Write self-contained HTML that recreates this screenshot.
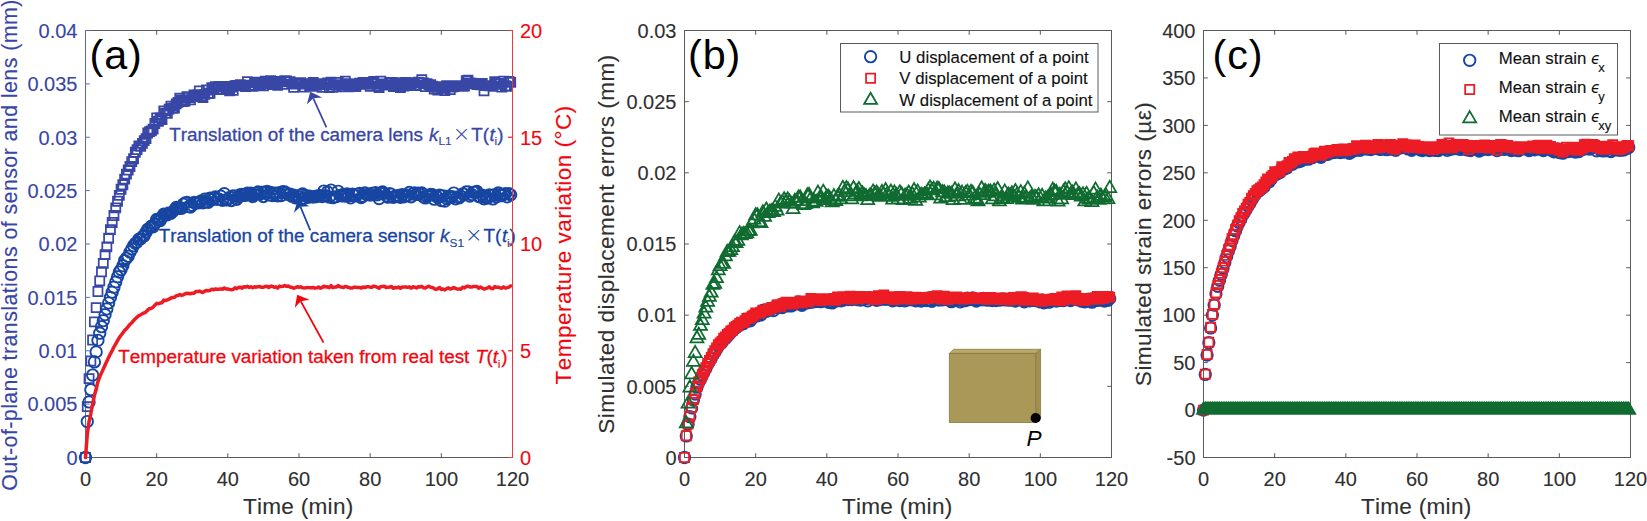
<!DOCTYPE html>
<html lang="en"><head><meta charset="utf-8"><title>Simulated thermal errors</title>
<style>html,body{margin:0;padding:0;background:#fff}svg{display:block}text{font-kerning:none;font-variant-ligatures:none}</style></head>
<body>
<svg width="1647" height="521" viewBox="0 0 1647 521" font-family='"Liberation Sans", sans-serif'>
<rect width="1647" height="521" fill="#fff"/>
<line x1="85.5" y1="457.5" x2="512.5" y2="457.5" stroke="#5a5a5a" stroke-width="1.0" />
<line x1="85.5" y1="30.5" x2="512.5" y2="30.5" stroke="#5a5a5a" stroke-width="1.0" />
<line x1="85.5" y1="457.5" x2="85.5" y2="453.2" stroke="#5a5a5a" stroke-width="1.0" />
<line x1="85.5" y1="30.5" x2="85.5" y2="34.8" stroke="#5a5a5a" stroke-width="1.0" />
<text x="85.5" y="485.6" font-size="20.0" fill="#303030" stroke="#303030" stroke-width="0.12" text-anchor="middle" >0</text>
<line x1="156.67" y1="457.5" x2="156.67" y2="453.2" stroke="#5a5a5a" stroke-width="1.0" />
<line x1="156.67" y1="30.5" x2="156.67" y2="34.8" stroke="#5a5a5a" stroke-width="1.0" />
<text x="156.67" y="485.6" font-size="20.0" fill="#303030" stroke="#303030" stroke-width="0.12" text-anchor="middle" >20</text>
<line x1="227.83" y1="457.5" x2="227.83" y2="453.2" stroke="#5a5a5a" stroke-width="1.0" />
<line x1="227.83" y1="30.5" x2="227.83" y2="34.8" stroke="#5a5a5a" stroke-width="1.0" />
<text x="227.83" y="485.6" font-size="20.0" fill="#303030" stroke="#303030" stroke-width="0.12" text-anchor="middle" >40</text>
<line x1="299" y1="457.5" x2="299" y2="453.2" stroke="#5a5a5a" stroke-width="1.0" />
<line x1="299" y1="30.5" x2="299" y2="34.8" stroke="#5a5a5a" stroke-width="1.0" />
<text x="299" y="485.6" font-size="20.0" fill="#303030" stroke="#303030" stroke-width="0.12" text-anchor="middle" >60</text>
<line x1="370.17" y1="457.5" x2="370.17" y2="453.2" stroke="#5a5a5a" stroke-width="1.0" />
<line x1="370.17" y1="30.5" x2="370.17" y2="34.8" stroke="#5a5a5a" stroke-width="1.0" />
<text x="370.17" y="485.6" font-size="20.0" fill="#303030" stroke="#303030" stroke-width="0.12" text-anchor="middle" >80</text>
<line x1="441.33" y1="457.5" x2="441.33" y2="453.2" stroke="#5a5a5a" stroke-width="1.0" />
<line x1="441.33" y1="30.5" x2="441.33" y2="34.8" stroke="#5a5a5a" stroke-width="1.0" />
<text x="441.33" y="485.6" font-size="20.0" fill="#303030" stroke="#303030" stroke-width="0.12" text-anchor="middle" >100</text>
<line x1="512.5" y1="457.5" x2="512.5" y2="453.2" stroke="#5a5a5a" stroke-width="1.0" />
<line x1="512.5" y1="30.5" x2="512.5" y2="34.8" stroke="#5a5a5a" stroke-width="1.0" />
<text x="512.5" y="485.6" font-size="20.0" fill="#303030" stroke="#303030" stroke-width="0.12" text-anchor="middle" >120</text>
<text x="298.2" y="514.2" font-size="22.6" fill="#303030" stroke="#303030" stroke-width="0.12" text-anchor="middle" letter-spacing=".27">Time (min)</text>
<line x1="85.5" y1="30" x2="85.5" y2="458" stroke="#5b68b8" stroke-width="1.0" />
<line x1="85.5" y1="457.5" x2="89.8" y2="457.5" stroke="#5b68b8" stroke-width="1.0" />
<text x="77.5" y="464.8" font-size="20.0" fill="#3846a6" stroke="#3846a6" stroke-width="0.12" text-anchor="end" >0</text>
<line x1="85.5" y1="404.12" x2="89.8" y2="404.12" stroke="#5b68b8" stroke-width="1.0" />
<text x="77.5" y="411.43" font-size="20.0" fill="#3846a6" stroke="#3846a6" stroke-width="0.12" text-anchor="end" >0.005</text>
<line x1="85.5" y1="350.75" x2="89.8" y2="350.75" stroke="#5b68b8" stroke-width="1.0" />
<text x="77.5" y="358.05" font-size="20.0" fill="#3846a6" stroke="#3846a6" stroke-width="0.12" text-anchor="end" >0.01</text>
<line x1="85.5" y1="297.38" x2="89.8" y2="297.38" stroke="#5b68b8" stroke-width="1.0" />
<text x="77.5" y="304.68" font-size="20.0" fill="#3846a6" stroke="#3846a6" stroke-width="0.12" text-anchor="end" >0.015</text>
<line x1="85.5" y1="244" x2="89.8" y2="244" stroke="#5b68b8" stroke-width="1.0" />
<text x="77.5" y="251.3" font-size="20.0" fill="#3846a6" stroke="#3846a6" stroke-width="0.12" text-anchor="end" >0.02</text>
<line x1="85.5" y1="190.62" x2="89.8" y2="190.62" stroke="#5b68b8" stroke-width="1.0" />
<text x="77.5" y="197.93" font-size="20.0" fill="#3846a6" stroke="#3846a6" stroke-width="0.12" text-anchor="end" >0.025</text>
<line x1="85.5" y1="137.25" x2="89.8" y2="137.25" stroke="#5b68b8" stroke-width="1.0" />
<text x="77.5" y="144.55" font-size="20.0" fill="#3846a6" stroke="#3846a6" stroke-width="0.12" text-anchor="end" >0.03</text>
<line x1="85.5" y1="83.88" x2="89.8" y2="83.88" stroke="#5b68b8" stroke-width="1.0" />
<text x="77.5" y="91.17" font-size="20.0" fill="#3846a6" stroke="#3846a6" stroke-width="0.12" text-anchor="end" >0.035</text>
<line x1="85.5" y1="30.5" x2="89.8" y2="30.5" stroke="#5b68b8" stroke-width="1.0" />
<text x="77.5" y="37.8" font-size="20.0" fill="#3846a6" stroke="#3846a6" stroke-width="0.12" text-anchor="end" >0.04</text>
<line x1="512.5" y1="30" x2="512.5" y2="458" stroke="#f2343c" stroke-width="1.0" />
<line x1="512.5" y1="457.5" x2="508.2" y2="457.5" stroke="#f2343c" stroke-width="1.0" />
<line x1="512.5" y1="350.75" x2="508.2" y2="350.75" stroke="#f2343c" stroke-width="1.0" />
<line x1="512.5" y1="244" x2="508.2" y2="244" stroke="#f2343c" stroke-width="1.0" />
<line x1="512.5" y1="137.25" x2="508.2" y2="137.25" stroke="#f2343c" stroke-width="1.0" />
<line x1="512.5" y1="30.5" x2="508.2" y2="30.5" stroke="#f2343c" stroke-width="1.0" />
<text x="520" y="464.8" font-size="20.0" fill="#f2060f" stroke="#f2060f" stroke-width="0.12" text-anchor="start" >0</text>
<text x="520" y="358.05" font-size="20.0" fill="#f2060f" stroke="#f2060f" stroke-width="0.12" text-anchor="start" >5</text>
<text x="520" y="251.3" font-size="20.0" fill="#f2060f" stroke="#f2060f" stroke-width="0.12" text-anchor="start" >10</text>
<text x="520" y="144.55" font-size="20.0" fill="#f2060f" stroke="#f2060f" stroke-width="0.12" text-anchor="start" >15</text>
<text x="520" y="37.8" font-size="20.0" fill="#f2060f" stroke="#f2060f" stroke-width="0.12" text-anchor="start" >20</text>
<text transform="translate(17.4 245) rotate(-90)" font-size="21.4" fill="#3846a6" stroke="#3846a6" stroke-width="0.12" letter-spacing="0.42" text-anchor="middle">Out-of-plane translations of sensor and lens (mm)</text>
<text transform="translate(571 244.9) rotate(-90)" font-size="22.6" fill="#f2060f" stroke="#f2060f" stroke-width="0.12" letter-spacing="0.45" text-anchor="middle">Temperature variation (°C)</text>
<path d="M80.95 452.95h9.1v9.1h-9.1zM82.73 402.09h9.1v9.1h-9.1zM84.51 374.06h9.1v9.1h-9.1zM86.29 356.41h9.1v9.1h-9.1zM88.07 335.43h9.1v9.1h-9.1zM89.85 317.28h9.1v9.1h-9.1zM91.62 303.08h9.1v9.1h-9.1zM93.4 286.92h9.1v9.1h-9.1zM95.18 276.33h9.1v9.1h-9.1zM96.96 267.23h9.1v9.1h-9.1zM98.74 258.8h9.1v9.1h-9.1zM100.52 250.13h9.1v9.1h-9.1zM102.3 242.38h9.1v9.1h-9.1zM104.08 233.66h9.1v9.1h-9.1zM105.86 225.01h9.1v9.1h-9.1zM107.64 217.96h9.1v9.1h-9.1zM109.42 210.96h9.1v9.1h-9.1zM111.2 203.27h9.1v9.1h-9.1zM112.98 196.71h9.1v9.1h-9.1zM114.75 190.84h9.1v9.1h-9.1zM116.53 184.69h9.1v9.1h-9.1zM118.31 180.18h9.1v9.1h-9.1zM120.09 174.51h9.1v9.1h-9.1zM121.87 169.6h9.1v9.1h-9.1zM123.65 165.47h9.1v9.1h-9.1zM125.43 161.97h9.1v9.1h-9.1zM127.21 157.05h9.1v9.1h-9.1zM128.99 154.22h9.1v9.1h-9.1zM130.77 147.65h9.1v9.1h-9.1zM132.55 145h9.1v9.1h-9.1zM134.32 141.34h9.1v9.1h-9.1zM136.1 141.7h9.1v9.1h-9.1zM137.88 138.84h9.1v9.1h-9.1zM139.66 136.01h9.1v9.1h-9.1zM141.44 134.1h9.1v9.1h-9.1zM143.22 128.44h9.1v9.1h-9.1zM145 127.09h9.1v9.1h-9.1zM146.78 126.39h9.1v9.1h-9.1zM148.56 124.59h9.1v9.1h-9.1zM150.34 118.97h9.1v9.1h-9.1zM152.12 113.38h9.1v9.1h-9.1zM153.9 116.66h9.1v9.1h-9.1zM155.67 113.16h9.1v9.1h-9.1zM157.45 114.92h9.1v9.1h-9.1zM159.23 106.29h9.1v9.1h-9.1zM161.01 108.68h9.1v9.1h-9.1zM162.79 108.81h9.1v9.1h-9.1zM164.57 104.59h9.1v9.1h-9.1zM166.35 101.63h9.1v9.1h-9.1zM168.13 103.83h9.1v9.1h-9.1zM169.91 103.58h9.1v9.1h-9.1zM171.69 99.36h9.1v9.1h-9.1zM173.47 97.77h9.1v9.1h-9.1zM175.25 93.68h9.1v9.1h-9.1zM177.02 95.73h9.1v9.1h-9.1zM178.8 97.09h9.1v9.1h-9.1zM180.58 96.45h9.1v9.1h-9.1zM182.36 92.16h9.1v9.1h-9.1zM184.14 92.94h9.1v9.1h-9.1zM185.92 95.23h9.1v9.1h-9.1zM187.7 92.09h9.1v9.1h-9.1zM189.48 90.32h9.1v9.1h-9.1zM191.26 90.85h9.1v9.1h-9.1zM193.04 90.14h9.1v9.1h-9.1zM194.82 86.35h9.1v9.1h-9.1zM196.6 91.66h9.1v9.1h-9.1zM198.38 93.06h9.1v9.1h-9.1zM200.15 89.83h9.1v9.1h-9.1zM201.93 85.42h9.1v9.1h-9.1zM203.71 89.06h9.1v9.1h-9.1zM205.49 88.68h9.1v9.1h-9.1zM207.27 83.23h9.1v9.1h-9.1zM209.05 83.88h9.1v9.1h-9.1zM210.83 82.06h9.1v9.1h-9.1zM212.61 84.34h9.1v9.1h-9.1zM214.39 81.8h9.1v9.1h-9.1zM216.17 84.97h9.1v9.1h-9.1zM217.95 84.4h9.1v9.1h-9.1zM219.72 81.85h9.1v9.1h-9.1zM221.5 83.45h9.1v9.1h-9.1zM223.28 85.05h9.1v9.1h-9.1zM225.06 86.18h9.1v9.1h-9.1zM226.84 82.46h9.1v9.1h-9.1zM228.62 85.74h9.1v9.1h-9.1zM230.4 81.07h9.1v9.1h-9.1zM232.18 80.75h9.1v9.1h-9.1zM233.96 81.05h9.1v9.1h-9.1zM235.74 80.19h9.1v9.1h-9.1zM237.52 81.23h9.1v9.1h-9.1zM239.3 80.77h9.1v9.1h-9.1zM241.07 81.9h9.1v9.1h-9.1zM242.85 77.1h9.1v9.1h-9.1zM244.63 80.73h9.1v9.1h-9.1zM246.41 80.87h9.1v9.1h-9.1zM248.19 81.82h9.1v9.1h-9.1zM249.97 77.68h9.1v9.1h-9.1zM251.75 78.18h9.1v9.1h-9.1zM253.53 78.36h9.1v9.1h-9.1zM255.31 79.55h9.1v9.1h-9.1zM257.09 77.96h9.1v9.1h-9.1zM258.87 81.22h9.1v9.1h-9.1zM260.65 76.5h9.1v9.1h-9.1zM262.43 79.29h9.1v9.1h-9.1zM264.2 78.01h9.1v9.1h-9.1zM265.98 76.06h9.1v9.1h-9.1zM267.76 77.53h9.1v9.1h-9.1zM269.54 80h9.1v9.1h-9.1zM271.32 78.41h9.1v9.1h-9.1zM273.1 80.75h9.1v9.1h-9.1zM274.88 76.91h9.1v9.1h-9.1zM276.66 77.27h9.1v9.1h-9.1zM278.44 79.68h9.1v9.1h-9.1zM280.22 76.22h9.1v9.1h-9.1zM282 76.46h9.1v9.1h-9.1zM283.77 77.22h9.1v9.1h-9.1zM285.55 77.07h9.1v9.1h-9.1zM287.33 79.64h9.1v9.1h-9.1zM289.11 82.78h9.1v9.1h-9.1zM290.89 78.59h9.1v9.1h-9.1zM292.67 79.08h9.1v9.1h-9.1zM294.45 79.51h9.1v9.1h-9.1zM296.23 78.1h9.1v9.1h-9.1zM298.01 79.15h9.1v9.1h-9.1zM299.79 82.57h9.1v9.1h-9.1zM301.57 79.07h9.1v9.1h-9.1zM303.35 79.62h9.1v9.1h-9.1zM305.12 81.37h9.1v9.1h-9.1zM306.9 81.78h9.1v9.1h-9.1zM308.68 77.82h9.1v9.1h-9.1zM310.46 79.31h9.1v9.1h-9.1zM312.24 80.81h9.1v9.1h-9.1zM314.02 80.04h9.1v9.1h-9.1zM315.8 79.23h9.1v9.1h-9.1zM317.58 82.69h9.1v9.1h-9.1zM319.36 79.8h9.1v9.1h-9.1zM321.14 79.11h9.1v9.1h-9.1zM322.92 78.38h9.1v9.1h-9.1zM324.7 83.07h9.1v9.1h-9.1zM326.47 77.62h9.1v9.1h-9.1zM328.25 82.77h9.1v9.1h-9.1zM330.03 80.59h9.1v9.1h-9.1zM331.81 80.83h9.1v9.1h-9.1zM333.59 77.91h9.1v9.1h-9.1zM335.37 80.38h9.1v9.1h-9.1zM337.15 80.02h9.1v9.1h-9.1zM338.93 82.21h9.1v9.1h-9.1zM340.71 76.54h9.1v9.1h-9.1zM342.49 79.16h9.1v9.1h-9.1zM344.27 82.2h9.1v9.1h-9.1zM346.05 80.82h9.1v9.1h-9.1zM347.82 79.88h9.1v9.1h-9.1zM349.6 80.31h9.1v9.1h-9.1zM351.38 82.07h9.1v9.1h-9.1zM353.16 79.26h9.1v9.1h-9.1zM354.94 78.71h9.1v9.1h-9.1zM356.72 79.6h9.1v9.1h-9.1zM358.5 77.93h9.1v9.1h-9.1zM360.28 79.71h9.1v9.1h-9.1zM362.06 79.61h9.1v9.1h-9.1zM363.84 79.72h9.1v9.1h-9.1zM365.62 81.74h9.1v9.1h-9.1zM367.4 78.04h9.1v9.1h-9.1zM369.18 76.9h9.1v9.1h-9.1zM370.95 79.49h9.1v9.1h-9.1zM372.73 81.59h9.1v9.1h-9.1zM374.51 83.09h9.1v9.1h-9.1zM376.29 76.73h9.1v9.1h-9.1zM378.07 79.49h9.1v9.1h-9.1zM379.85 80.03h9.1v9.1h-9.1zM381.63 80.58h9.1v9.1h-9.1zM383.41 80.52h9.1v9.1h-9.1zM385.19 78.15h9.1v9.1h-9.1zM386.97 77.86h9.1v9.1h-9.1zM388.75 82.02h9.1v9.1h-9.1zM390.52 78.01h9.1v9.1h-9.1zM392.3 79.21h9.1v9.1h-9.1zM394.08 81.14h9.1v9.1h-9.1zM395.86 83.03h9.1v9.1h-9.1zM397.64 79.5h9.1v9.1h-9.1zM399.42 81.58h9.1v9.1h-9.1zM401.2 77.98h9.1v9.1h-9.1zM402.98 78.34h9.1v9.1h-9.1zM404.76 79.86h9.1v9.1h-9.1zM406.54 79.76h9.1v9.1h-9.1zM408.32 78.2h9.1v9.1h-9.1zM410.1 80.99h9.1v9.1h-9.1zM411.88 80.56h9.1v9.1h-9.1zM413.65 77.73h9.1v9.1h-9.1zM415.43 78.15h9.1v9.1h-9.1zM417.21 75.1h9.1v9.1h-9.1zM418.99 78.47h9.1v9.1h-9.1zM420.77 81.92h9.1v9.1h-9.1zM422.55 79.12h9.1v9.1h-9.1zM424.33 80.02h9.1v9.1h-9.1zM426.11 80.2h9.1v9.1h-9.1zM427.89 81.73h9.1v9.1h-9.1zM429.67 84.53h9.1v9.1h-9.1zM431.45 82.59h9.1v9.1h-9.1zM433.22 85.5h9.1v9.1h-9.1zM435 82.19h9.1v9.1h-9.1zM436.78 83.87h9.1v9.1h-9.1zM438.56 83.26h9.1v9.1h-9.1zM440.34 85.98h9.1v9.1h-9.1zM442.12 81.16h9.1v9.1h-9.1zM443.9 82.39h9.1v9.1h-9.1zM445.68 85.06h9.1v9.1h-9.1zM447.46 82.5h9.1v9.1h-9.1zM449.24 82.13h9.1v9.1h-9.1zM451.02 81.2h9.1v9.1h-9.1zM452.8 81.58h9.1v9.1h-9.1zM454.57 81.89h9.1v9.1h-9.1zM456.35 81.87h9.1v9.1h-9.1zM458.13 81.76h9.1v9.1h-9.1zM459.91 81.42h9.1v9.1h-9.1zM461.69 76h9.1v9.1h-9.1zM463.47 75.58h9.1v9.1h-9.1zM465.25 78.42h9.1v9.1h-9.1zM467.03 78.58h9.1v9.1h-9.1zM468.81 79.1h9.1v9.1h-9.1zM470.59 79.22h9.1v9.1h-9.1zM472.37 80.05h9.1v9.1h-9.1zM474.15 79.52h9.1v9.1h-9.1zM475.93 80.36h9.1v9.1h-9.1zM477.7 78.94h9.1v9.1h-9.1zM479.48 86.16h9.1v9.1h-9.1zM481.26 81h9.1v9.1h-9.1zM483.04 81.04h9.1v9.1h-9.1zM484.82 81.19h9.1v9.1h-9.1zM486.6 81.13h9.1v9.1h-9.1zM488.38 81.81h9.1v9.1h-9.1zM490.16 77.16h9.1v9.1h-9.1zM491.94 78.94h9.1v9.1h-9.1zM493.72 78.79h9.1v9.1h-9.1zM495.5 79.74h9.1v9.1h-9.1zM497.27 82.41h9.1v9.1h-9.1zM499.05 76.56h9.1v9.1h-9.1zM500.83 81.23h9.1v9.1h-9.1zM502.61 81.87h9.1v9.1h-9.1zM504.39 76.89h9.1v9.1h-9.1zM506.17 77.87h9.1v9.1h-9.1z" fill="none" stroke="#3846a6" stroke-width="1.75" stroke-linejoin="miter"/>
<path d="M85.5 457.5m-5.7 0a5.7 5.7 0 1 0 11.4 0a5.7 5.7 0 1 0 -11.4 0M87.28 421.56m-5.7 0a5.7 5.7 0 1 0 11.4 0a5.7 5.7 0 1 0 -11.4 0M89.06 401.97m-5.7 0a5.7 5.7 0 1 0 11.4 0a5.7 5.7 0 1 0 -11.4 0M90.84 389.76m-5.7 0a5.7 5.7 0 1 0 11.4 0a5.7 5.7 0 1 0 -11.4 0M92.62 375.07m-5.7 0a5.7 5.7 0 1 0 11.4 0a5.7 5.7 0 1 0 -11.4 0M94.4 361.93m-5.7 0a5.7 5.7 0 1 0 11.4 0a5.7 5.7 0 1 0 -11.4 0M96.17 351.91m-5.7 0a5.7 5.7 0 1 0 11.4 0a5.7 5.7 0 1 0 -11.4 0M97.95 340.35m-5.7 0a5.7 5.7 0 1 0 11.4 0a5.7 5.7 0 1 0 -11.4 0M99.73 333.18m-5.7 0a5.7 5.7 0 1 0 11.4 0a5.7 5.7 0 1 0 -11.4 0M101.51 326.72m-5.7 0a5.7 5.7 0 1 0 11.4 0a5.7 5.7 0 1 0 -11.4 0M103.29 320.66m-5.7 0a5.7 5.7 0 1 0 11.4 0a5.7 5.7 0 1 0 -11.4 0M105.07 314.64m-5.7 0a5.7 5.7 0 1 0 11.4 0a5.7 5.7 0 1 0 -11.4 0M106.85 308.92m-5.7 0a5.7 5.7 0 1 0 11.4 0a5.7 5.7 0 1 0 -11.4 0M108.63 302.9m-5.7 0a5.7 5.7 0 1 0 11.4 0a5.7 5.7 0 1 0 -11.4 0M110.41 297.42m-5.7 0a5.7 5.7 0 1 0 11.4 0a5.7 5.7 0 1 0 -11.4 0M112.19 292.19m-5.7 0a5.7 5.7 0 1 0 11.4 0a5.7 5.7 0 1 0 -11.4 0M113.97 287.23m-5.7 0a5.7 5.7 0 1 0 11.4 0a5.7 5.7 0 1 0 -11.4 0M115.75 281.9m-5.7 0a5.7 5.7 0 1 0 11.4 0a5.7 5.7 0 1 0 -11.4 0M117.53 276.83m-5.7 0a5.7 5.7 0 1 0 11.4 0a5.7 5.7 0 1 0 -11.4 0M119.3 272.04m-5.7 0a5.7 5.7 0 1 0 11.4 0a5.7 5.7 0 1 0 -11.4 0M121.08 269.57m-5.7 0a5.7 5.7 0 1 0 11.4 0a5.7 5.7 0 1 0 -11.4 0M122.86 265.64m-5.7 0a5.7 5.7 0 1 0 11.4 0a5.7 5.7 0 1 0 -11.4 0M124.64 260.56m-5.7 0a5.7 5.7 0 1 0 11.4 0a5.7 5.7 0 1 0 -11.4 0M126.42 258.29m-5.7 0a5.7 5.7 0 1 0 11.4 0a5.7 5.7 0 1 0 -11.4 0M128.2 256.35m-5.7 0a5.7 5.7 0 1 0 11.4 0a5.7 5.7 0 1 0 -11.4 0M129.98 252.11m-5.7 0a5.7 5.7 0 1 0 11.4 0a5.7 5.7 0 1 0 -11.4 0M131.76 248.92m-5.7 0a5.7 5.7 0 1 0 11.4 0a5.7 5.7 0 1 0 -11.4 0M133.54 245.63m-5.7 0a5.7 5.7 0 1 0 11.4 0a5.7 5.7 0 1 0 -11.4 0M135.32 243.36m-5.7 0a5.7 5.7 0 1 0 11.4 0a5.7 5.7 0 1 0 -11.4 0M137.1 242.04m-5.7 0a5.7 5.7 0 1 0 11.4 0a5.7 5.7 0 1 0 -11.4 0M138.88 239.26m-5.7 0a5.7 5.7 0 1 0 11.4 0a5.7 5.7 0 1 0 -11.4 0M140.65 238.85m-5.7 0a5.7 5.7 0 1 0 11.4 0a5.7 5.7 0 1 0 -11.4 0M142.43 236.59m-5.7 0a5.7 5.7 0 1 0 11.4 0a5.7 5.7 0 1 0 -11.4 0M144.21 235.85m-5.7 0a5.7 5.7 0 1 0 11.4 0a5.7 5.7 0 1 0 -11.4 0M145.99 232.32m-5.7 0a5.7 5.7 0 1 0 11.4 0a5.7 5.7 0 1 0 -11.4 0M147.77 229.3m-5.7 0a5.7 5.7 0 1 0 11.4 0a5.7 5.7 0 1 0 -11.4 0M149.55 227.92m-5.7 0a5.7 5.7 0 1 0 11.4 0a5.7 5.7 0 1 0 -11.4 0M151.33 226.28m-5.7 0a5.7 5.7 0 1 0 11.4 0a5.7 5.7 0 1 0 -11.4 0M153.11 226.74m-5.7 0a5.7 5.7 0 1 0 11.4 0a5.7 5.7 0 1 0 -11.4 0M154.89 223.59m-5.7 0a5.7 5.7 0 1 0 11.4 0a5.7 5.7 0 1 0 -11.4 0M156.67 219.38m-5.7 0a5.7 5.7 0 1 0 11.4 0a5.7 5.7 0 1 0 -11.4 0M158.45 220.19m-5.7 0a5.7 5.7 0 1 0 11.4 0a5.7 5.7 0 1 0 -11.4 0M160.22 220.62m-5.7 0a5.7 5.7 0 1 0 11.4 0a5.7 5.7 0 1 0 -11.4 0M162 217.22m-5.7 0a5.7 5.7 0 1 0 11.4 0a5.7 5.7 0 1 0 -11.4 0M163.78 214.24m-5.7 0a5.7 5.7 0 1 0 11.4 0a5.7 5.7 0 1 0 -11.4 0M165.56 214.91m-5.7 0a5.7 5.7 0 1 0 11.4 0a5.7 5.7 0 1 0 -11.4 0M167.34 214.79m-5.7 0a5.7 5.7 0 1 0 11.4 0a5.7 5.7 0 1 0 -11.4 0M169.12 212.84m-5.7 0a5.7 5.7 0 1 0 11.4 0a5.7 5.7 0 1 0 -11.4 0M170.9 213.33m-5.7 0a5.7 5.7 0 1 0 11.4 0a5.7 5.7 0 1 0 -11.4 0M172.68 211.62m-5.7 0a5.7 5.7 0 1 0 11.4 0a5.7 5.7 0 1 0 -11.4 0M174.46 209.89m-5.7 0a5.7 5.7 0 1 0 11.4 0a5.7 5.7 0 1 0 -11.4 0M176.24 207.48m-5.7 0a5.7 5.7 0 1 0 11.4 0a5.7 5.7 0 1 0 -11.4 0M178.02 207.55m-5.7 0a5.7 5.7 0 1 0 11.4 0a5.7 5.7 0 1 0 -11.4 0M179.8 208.36m-5.7 0a5.7 5.7 0 1 0 11.4 0a5.7 5.7 0 1 0 -11.4 0M181.57 208.28m-5.7 0a5.7 5.7 0 1 0 11.4 0a5.7 5.7 0 1 0 -11.4 0M183.35 204.18m-5.7 0a5.7 5.7 0 1 0 11.4 0a5.7 5.7 0 1 0 -11.4 0M185.13 202.84m-5.7 0a5.7 5.7 0 1 0 11.4 0a5.7 5.7 0 1 0 -11.4 0M186.91 202.45m-5.7 0a5.7 5.7 0 1 0 11.4 0a5.7 5.7 0 1 0 -11.4 0M188.69 206.63m-5.7 0a5.7 5.7 0 1 0 11.4 0a5.7 5.7 0 1 0 -11.4 0M190.47 206.99m-5.7 0a5.7 5.7 0 1 0 11.4 0a5.7 5.7 0 1 0 -11.4 0M192.25 205.41m-5.7 0a5.7 5.7 0 1 0 11.4 0a5.7 5.7 0 1 0 -11.4 0M194.03 202.5m-5.7 0a5.7 5.7 0 1 0 11.4 0a5.7 5.7 0 1 0 -11.4 0M195.81 202.92m-5.7 0a5.7 5.7 0 1 0 11.4 0a5.7 5.7 0 1 0 -11.4 0M197.59 202.93m-5.7 0a5.7 5.7 0 1 0 11.4 0a5.7 5.7 0 1 0 -11.4 0M199.37 202.01m-5.7 0a5.7 5.7 0 1 0 11.4 0a5.7 5.7 0 1 0 -11.4 0M201.15 200.94m-5.7 0a5.7 5.7 0 1 0 11.4 0a5.7 5.7 0 1 0 -11.4 0M202.93 202.83m-5.7 0a5.7 5.7 0 1 0 11.4 0a5.7 5.7 0 1 0 -11.4 0M204.7 199.08m-5.7 0a5.7 5.7 0 1 0 11.4 0a5.7 5.7 0 1 0 -11.4 0M206.48 201.98m-5.7 0a5.7 5.7 0 1 0 11.4 0a5.7 5.7 0 1 0 -11.4 0M208.26 202.35m-5.7 0a5.7 5.7 0 1 0 11.4 0a5.7 5.7 0 1 0 -11.4 0M210.04 198.05m-5.7 0a5.7 5.7 0 1 0 11.4 0a5.7 5.7 0 1 0 -11.4 0M211.82 199.77m-5.7 0a5.7 5.7 0 1 0 11.4 0a5.7 5.7 0 1 0 -11.4 0M213.6 197.75m-5.7 0a5.7 5.7 0 1 0 11.4 0a5.7 5.7 0 1 0 -11.4 0M215.38 196.98m-5.7 0a5.7 5.7 0 1 0 11.4 0a5.7 5.7 0 1 0 -11.4 0M217.16 199.36m-5.7 0a5.7 5.7 0 1 0 11.4 0a5.7 5.7 0 1 0 -11.4 0M218.94 199.06m-5.7 0a5.7 5.7 0 1 0 11.4 0a5.7 5.7 0 1 0 -11.4 0M220.72 196.18m-5.7 0a5.7 5.7 0 1 0 11.4 0a5.7 5.7 0 1 0 -11.4 0M222.5 200.35m-5.7 0a5.7 5.7 0 1 0 11.4 0a5.7 5.7 0 1 0 -11.4 0M224.28 193.71m-5.7 0a5.7 5.7 0 1 0 11.4 0a5.7 5.7 0 1 0 -11.4 0M226.05 199.95m-5.7 0a5.7 5.7 0 1 0 11.4 0a5.7 5.7 0 1 0 -11.4 0M227.83 199.22m-5.7 0a5.7 5.7 0 1 0 11.4 0a5.7 5.7 0 1 0 -11.4 0M229.61 197.51m-5.7 0a5.7 5.7 0 1 0 11.4 0a5.7 5.7 0 1 0 -11.4 0M231.39 200.48m-5.7 0a5.7 5.7 0 1 0 11.4 0a5.7 5.7 0 1 0 -11.4 0M233.17 196m-5.7 0a5.7 5.7 0 1 0 11.4 0a5.7 5.7 0 1 0 -11.4 0M234.95 196.2m-5.7 0a5.7 5.7 0 1 0 11.4 0a5.7 5.7 0 1 0 -11.4 0M236.73 199.26m-5.7 0a5.7 5.7 0 1 0 11.4 0a5.7 5.7 0 1 0 -11.4 0M238.51 196.79m-5.7 0a5.7 5.7 0 1 0 11.4 0a5.7 5.7 0 1 0 -11.4 0M240.29 194.56m-5.7 0a5.7 5.7 0 1 0 11.4 0a5.7 5.7 0 1 0 -11.4 0M242.07 194.39m-5.7 0a5.7 5.7 0 1 0 11.4 0a5.7 5.7 0 1 0 -11.4 0M243.85 195.3m-5.7 0a5.7 5.7 0 1 0 11.4 0a5.7 5.7 0 1 0 -11.4 0M245.62 195.23m-5.7 0a5.7 5.7 0 1 0 11.4 0a5.7 5.7 0 1 0 -11.4 0M247.4 193.22m-5.7 0a5.7 5.7 0 1 0 11.4 0a5.7 5.7 0 1 0 -11.4 0M249.18 194.43m-5.7 0a5.7 5.7 0 1 0 11.4 0a5.7 5.7 0 1 0 -11.4 0M250.96 193.11m-5.7 0a5.7 5.7 0 1 0 11.4 0a5.7 5.7 0 1 0 -11.4 0M252.74 196.49m-5.7 0a5.7 5.7 0 1 0 11.4 0a5.7 5.7 0 1 0 -11.4 0M254.52 194.82m-5.7 0a5.7 5.7 0 1 0 11.4 0a5.7 5.7 0 1 0 -11.4 0M256.3 192.94m-5.7 0a5.7 5.7 0 1 0 11.4 0a5.7 5.7 0 1 0 -11.4 0M258.08 191.99m-5.7 0a5.7 5.7 0 1 0 11.4 0a5.7 5.7 0 1 0 -11.4 0M259.86 194.2m-5.7 0a5.7 5.7 0 1 0 11.4 0a5.7 5.7 0 1 0 -11.4 0M261.64 192.46m-5.7 0a5.7 5.7 0 1 0 11.4 0a5.7 5.7 0 1 0 -11.4 0M263.42 196.51m-5.7 0a5.7 5.7 0 1 0 11.4 0a5.7 5.7 0 1 0 -11.4 0M265.2 191.99m-5.7 0a5.7 5.7 0 1 0 11.4 0a5.7 5.7 0 1 0 -11.4 0M266.98 191.36m-5.7 0a5.7 5.7 0 1 0 11.4 0a5.7 5.7 0 1 0 -11.4 0M268.75 194.96m-5.7 0a5.7 5.7 0 1 0 11.4 0a5.7 5.7 0 1 0 -11.4 0M270.53 192.39m-5.7 0a5.7 5.7 0 1 0 11.4 0a5.7 5.7 0 1 0 -11.4 0M272.31 195.54m-5.7 0a5.7 5.7 0 1 0 11.4 0a5.7 5.7 0 1 0 -11.4 0M274.09 193.2m-5.7 0a5.7 5.7 0 1 0 11.4 0a5.7 5.7 0 1 0 -11.4 0M275.87 193.36m-5.7 0a5.7 5.7 0 1 0 11.4 0a5.7 5.7 0 1 0 -11.4 0M277.65 195.84m-5.7 0a5.7 5.7 0 1 0 11.4 0a5.7 5.7 0 1 0 -11.4 0M279.43 192.75m-5.7 0a5.7 5.7 0 1 0 11.4 0a5.7 5.7 0 1 0 -11.4 0M281.21 195.57m-5.7 0a5.7 5.7 0 1 0 11.4 0a5.7 5.7 0 1 0 -11.4 0M282.99 191.7m-5.7 0a5.7 5.7 0 1 0 11.4 0a5.7 5.7 0 1 0 -11.4 0M284.77 192.02m-5.7 0a5.7 5.7 0 1 0 11.4 0a5.7 5.7 0 1 0 -11.4 0M286.55 193.01m-5.7 0a5.7 5.7 0 1 0 11.4 0a5.7 5.7 0 1 0 -11.4 0M288.32 194.56m-5.7 0a5.7 5.7 0 1 0 11.4 0a5.7 5.7 0 1 0 -11.4 0M290.1 194.12m-5.7 0a5.7 5.7 0 1 0 11.4 0a5.7 5.7 0 1 0 -11.4 0M291.88 196.27m-5.7 0a5.7 5.7 0 1 0 11.4 0a5.7 5.7 0 1 0 -11.4 0M293.66 195.1m-5.7 0a5.7 5.7 0 1 0 11.4 0a5.7 5.7 0 1 0 -11.4 0M295.44 197.86m-5.7 0a5.7 5.7 0 1 0 11.4 0a5.7 5.7 0 1 0 -11.4 0M297.22 196.04m-5.7 0a5.7 5.7 0 1 0 11.4 0a5.7 5.7 0 1 0 -11.4 0M299 196.36m-5.7 0a5.7 5.7 0 1 0 11.4 0a5.7 5.7 0 1 0 -11.4 0M300.78 194.78m-5.7 0a5.7 5.7 0 1 0 11.4 0a5.7 5.7 0 1 0 -11.4 0M302.56 193.98m-5.7 0a5.7 5.7 0 1 0 11.4 0a5.7 5.7 0 1 0 -11.4 0M304.34 198.3m-5.7 0a5.7 5.7 0 1 0 11.4 0a5.7 5.7 0 1 0 -11.4 0M306.12 195.53m-5.7 0a5.7 5.7 0 1 0 11.4 0a5.7 5.7 0 1 0 -11.4 0M307.9 197.39m-5.7 0a5.7 5.7 0 1 0 11.4 0a5.7 5.7 0 1 0 -11.4 0M309.68 196.19m-5.7 0a5.7 5.7 0 1 0 11.4 0a5.7 5.7 0 1 0 -11.4 0M311.45 196.77m-5.7 0a5.7 5.7 0 1 0 11.4 0a5.7 5.7 0 1 0 -11.4 0M313.23 196.97m-5.7 0a5.7 5.7 0 1 0 11.4 0a5.7 5.7 0 1 0 -11.4 0M315.01 196.35m-5.7 0a5.7 5.7 0 1 0 11.4 0a5.7 5.7 0 1 0 -11.4 0M316.79 196.63m-5.7 0a5.7 5.7 0 1 0 11.4 0a5.7 5.7 0 1 0 -11.4 0M318.57 195.76m-5.7 0a5.7 5.7 0 1 0 11.4 0a5.7 5.7 0 1 0 -11.4 0M320.35 195.74m-5.7 0a5.7 5.7 0 1 0 11.4 0a5.7 5.7 0 1 0 -11.4 0M322.13 196.52m-5.7 0a5.7 5.7 0 1 0 11.4 0a5.7 5.7 0 1 0 -11.4 0M323.91 191.03m-5.7 0a5.7 5.7 0 1 0 11.4 0a5.7 5.7 0 1 0 -11.4 0M325.69 195.67m-5.7 0a5.7 5.7 0 1 0 11.4 0a5.7 5.7 0 1 0 -11.4 0M327.47 191.89m-5.7 0a5.7 5.7 0 1 0 11.4 0a5.7 5.7 0 1 0 -11.4 0M329.25 197.16m-5.7 0a5.7 5.7 0 1 0 11.4 0a5.7 5.7 0 1 0 -11.4 0M331.02 190.1m-5.7 0a5.7 5.7 0 1 0 11.4 0a5.7 5.7 0 1 0 -11.4 0M332.8 197.72m-5.7 0a5.7 5.7 0 1 0 11.4 0a5.7 5.7 0 1 0 -11.4 0M334.58 197.05m-5.7 0a5.7 5.7 0 1 0 11.4 0a5.7 5.7 0 1 0 -11.4 0M336.36 196.54m-5.7 0a5.7 5.7 0 1 0 11.4 0a5.7 5.7 0 1 0 -11.4 0M338.14 191.28m-5.7 0a5.7 5.7 0 1 0 11.4 0a5.7 5.7 0 1 0 -11.4 0M339.92 195.36m-5.7 0a5.7 5.7 0 1 0 11.4 0a5.7 5.7 0 1 0 -11.4 0M341.7 195.77m-5.7 0a5.7 5.7 0 1 0 11.4 0a5.7 5.7 0 1 0 -11.4 0M343.48 194.48m-5.7 0a5.7 5.7 0 1 0 11.4 0a5.7 5.7 0 1 0 -11.4 0M345.26 195.98m-5.7 0a5.7 5.7 0 1 0 11.4 0a5.7 5.7 0 1 0 -11.4 0M347.04 193.98m-5.7 0a5.7 5.7 0 1 0 11.4 0a5.7 5.7 0 1 0 -11.4 0M348.82 195.77m-5.7 0a5.7 5.7 0 1 0 11.4 0a5.7 5.7 0 1 0 -11.4 0M350.6 197.9m-5.7 0a5.7 5.7 0 1 0 11.4 0a5.7 5.7 0 1 0 -11.4 0M352.38 194.05m-5.7 0a5.7 5.7 0 1 0 11.4 0a5.7 5.7 0 1 0 -11.4 0M354.15 195.51m-5.7 0a5.7 5.7 0 1 0 11.4 0a5.7 5.7 0 1 0 -11.4 0M355.93 195.81m-5.7 0a5.7 5.7 0 1 0 11.4 0a5.7 5.7 0 1 0 -11.4 0M357.71 194.19m-5.7 0a5.7 5.7 0 1 0 11.4 0a5.7 5.7 0 1 0 -11.4 0M359.49 193.38m-5.7 0a5.7 5.7 0 1 0 11.4 0a5.7 5.7 0 1 0 -11.4 0M361.27 197.58m-5.7 0a5.7 5.7 0 1 0 11.4 0a5.7 5.7 0 1 0 -11.4 0M363.05 196.26m-5.7 0a5.7 5.7 0 1 0 11.4 0a5.7 5.7 0 1 0 -11.4 0M364.83 193.01m-5.7 0a5.7 5.7 0 1 0 11.4 0a5.7 5.7 0 1 0 -11.4 0M366.61 194.63m-5.7 0a5.7 5.7 0 1 0 11.4 0a5.7 5.7 0 1 0 -11.4 0M368.39 193.82m-5.7 0a5.7 5.7 0 1 0 11.4 0a5.7 5.7 0 1 0 -11.4 0M370.17 194.98m-5.7 0a5.7 5.7 0 1 0 11.4 0a5.7 5.7 0 1 0 -11.4 0M371.95 193.28m-5.7 0a5.7 5.7 0 1 0 11.4 0a5.7 5.7 0 1 0 -11.4 0M373.73 193.5m-5.7 0a5.7 5.7 0 1 0 11.4 0a5.7 5.7 0 1 0 -11.4 0M375.5 192.73m-5.7 0a5.7 5.7 0 1 0 11.4 0a5.7 5.7 0 1 0 -11.4 0M377.28 194.77m-5.7 0a5.7 5.7 0 1 0 11.4 0a5.7 5.7 0 1 0 -11.4 0M379.06 198.59m-5.7 0a5.7 5.7 0 1 0 11.4 0a5.7 5.7 0 1 0 -11.4 0M380.84 193.7m-5.7 0a5.7 5.7 0 1 0 11.4 0a5.7 5.7 0 1 0 -11.4 0M382.62 191.99m-5.7 0a5.7 5.7 0 1 0 11.4 0a5.7 5.7 0 1 0 -11.4 0M384.4 193.37m-5.7 0a5.7 5.7 0 1 0 11.4 0a5.7 5.7 0 1 0 -11.4 0M386.18 195.62m-5.7 0a5.7 5.7 0 1 0 11.4 0a5.7 5.7 0 1 0 -11.4 0M387.96 197.22m-5.7 0a5.7 5.7 0 1 0 11.4 0a5.7 5.7 0 1 0 -11.4 0M389.74 193.54m-5.7 0a5.7 5.7 0 1 0 11.4 0a5.7 5.7 0 1 0 -11.4 0M391.52 194.34m-5.7 0a5.7 5.7 0 1 0 11.4 0a5.7 5.7 0 1 0 -11.4 0M393.3 197.31m-5.7 0a5.7 5.7 0 1 0 11.4 0a5.7 5.7 0 1 0 -11.4 0M395.07 196.07m-5.7 0a5.7 5.7 0 1 0 11.4 0a5.7 5.7 0 1 0 -11.4 0M396.85 196.21m-5.7 0a5.7 5.7 0 1 0 11.4 0a5.7 5.7 0 1 0 -11.4 0M398.63 195.38m-5.7 0a5.7 5.7 0 1 0 11.4 0a5.7 5.7 0 1 0 -11.4 0M400.41 197.36m-5.7 0a5.7 5.7 0 1 0 11.4 0a5.7 5.7 0 1 0 -11.4 0M402.19 194.67m-5.7 0a5.7 5.7 0 1 0 11.4 0a5.7 5.7 0 1 0 -11.4 0M403.97 196.91m-5.7 0a5.7 5.7 0 1 0 11.4 0a5.7 5.7 0 1 0 -11.4 0M405.75 195.97m-5.7 0a5.7 5.7 0 1 0 11.4 0a5.7 5.7 0 1 0 -11.4 0M407.53 195.22m-5.7 0a5.7 5.7 0 1 0 11.4 0a5.7 5.7 0 1 0 -11.4 0M409.31 192.38m-5.7 0a5.7 5.7 0 1 0 11.4 0a5.7 5.7 0 1 0 -11.4 0M411.09 196.76m-5.7 0a5.7 5.7 0 1 0 11.4 0a5.7 5.7 0 1 0 -11.4 0M412.87 193.77m-5.7 0a5.7 5.7 0 1 0 11.4 0a5.7 5.7 0 1 0 -11.4 0M414.65 192.89m-5.7 0a5.7 5.7 0 1 0 11.4 0a5.7 5.7 0 1 0 -11.4 0M416.43 194.45m-5.7 0a5.7 5.7 0 1 0 11.4 0a5.7 5.7 0 1 0 -11.4 0M418.2 193.1m-5.7 0a5.7 5.7 0 1 0 11.4 0a5.7 5.7 0 1 0 -11.4 0M419.98 194.01m-5.7 0a5.7 5.7 0 1 0 11.4 0a5.7 5.7 0 1 0 -11.4 0M421.76 192.89m-5.7 0a5.7 5.7 0 1 0 11.4 0a5.7 5.7 0 1 0 -11.4 0M423.54 197.05m-5.7 0a5.7 5.7 0 1 0 11.4 0a5.7 5.7 0 1 0 -11.4 0M425.32 197.94m-5.7 0a5.7 5.7 0 1 0 11.4 0a5.7 5.7 0 1 0 -11.4 0M427.1 196.44m-5.7 0a5.7 5.7 0 1 0 11.4 0a5.7 5.7 0 1 0 -11.4 0M428.88 195.41m-5.7 0a5.7 5.7 0 1 0 11.4 0a5.7 5.7 0 1 0 -11.4 0M430.66 194.4m-5.7 0a5.7 5.7 0 1 0 11.4 0a5.7 5.7 0 1 0 -11.4 0M432.44 194.64m-5.7 0a5.7 5.7 0 1 0 11.4 0a5.7 5.7 0 1 0 -11.4 0M434.22 199.2m-5.7 0a5.7 5.7 0 1 0 11.4 0a5.7 5.7 0 1 0 -11.4 0M436 196.41m-5.7 0a5.7 5.7 0 1 0 11.4 0a5.7 5.7 0 1 0 -11.4 0M437.77 197.55m-5.7 0a5.7 5.7 0 1 0 11.4 0a5.7 5.7 0 1 0 -11.4 0M439.55 195.13m-5.7 0a5.7 5.7 0 1 0 11.4 0a5.7 5.7 0 1 0 -11.4 0M441.33 200.52m-5.7 0a5.7 5.7 0 1 0 11.4 0a5.7 5.7 0 1 0 -11.4 0M443.11 195.89m-5.7 0a5.7 5.7 0 1 0 11.4 0a5.7 5.7 0 1 0 -11.4 0M444.89 201.13m-5.7 0a5.7 5.7 0 1 0 11.4 0a5.7 5.7 0 1 0 -11.4 0M446.67 198.46m-5.7 0a5.7 5.7 0 1 0 11.4 0a5.7 5.7 0 1 0 -11.4 0M448.45 196.03m-5.7 0a5.7 5.7 0 1 0 11.4 0a5.7 5.7 0 1 0 -11.4 0M450.23 197.63m-5.7 0a5.7 5.7 0 1 0 11.4 0a5.7 5.7 0 1 0 -11.4 0M452.01 196.76m-5.7 0a5.7 5.7 0 1 0 11.4 0a5.7 5.7 0 1 0 -11.4 0M453.79 193.06m-5.7 0a5.7 5.7 0 1 0 11.4 0a5.7 5.7 0 1 0 -11.4 0M455.57 198.92m-5.7 0a5.7 5.7 0 1 0 11.4 0a5.7 5.7 0 1 0 -11.4 0M457.35 196.93m-5.7 0a5.7 5.7 0 1 0 11.4 0a5.7 5.7 0 1 0 -11.4 0M459.12 197.91m-5.7 0a5.7 5.7 0 1 0 11.4 0a5.7 5.7 0 1 0 -11.4 0M460.9 196.27m-5.7 0a5.7 5.7 0 1 0 11.4 0a5.7 5.7 0 1 0 -11.4 0M462.68 193.99m-5.7 0a5.7 5.7 0 1 0 11.4 0a5.7 5.7 0 1 0 -11.4 0M464.46 194.31m-5.7 0a5.7 5.7 0 1 0 11.4 0a5.7 5.7 0 1 0 -11.4 0M466.24 191.97m-5.7 0a5.7 5.7 0 1 0 11.4 0a5.7 5.7 0 1 0 -11.4 0M468.02 191.86m-5.7 0a5.7 5.7 0 1 0 11.4 0a5.7 5.7 0 1 0 -11.4 0M469.8 196.15m-5.7 0a5.7 5.7 0 1 0 11.4 0a5.7 5.7 0 1 0 -11.4 0M471.58 194.49m-5.7 0a5.7 5.7 0 1 0 11.4 0a5.7 5.7 0 1 0 -11.4 0M473.36 192.3m-5.7 0a5.7 5.7 0 1 0 11.4 0a5.7 5.7 0 1 0 -11.4 0M475.14 192.38m-5.7 0a5.7 5.7 0 1 0 11.4 0a5.7 5.7 0 1 0 -11.4 0M476.92 191.49m-5.7 0a5.7 5.7 0 1 0 11.4 0a5.7 5.7 0 1 0 -11.4 0M478.7 196.64m-5.7 0a5.7 5.7 0 1 0 11.4 0a5.7 5.7 0 1 0 -11.4 0M480.48 197.02m-5.7 0a5.7 5.7 0 1 0 11.4 0a5.7 5.7 0 1 0 -11.4 0M482.25 195.03m-5.7 0a5.7 5.7 0 1 0 11.4 0a5.7 5.7 0 1 0 -11.4 0M484.03 198.77m-5.7 0a5.7 5.7 0 1 0 11.4 0a5.7 5.7 0 1 0 -11.4 0M485.81 196.13m-5.7 0a5.7 5.7 0 1 0 11.4 0a5.7 5.7 0 1 0 -11.4 0M487.59 198.16m-5.7 0a5.7 5.7 0 1 0 11.4 0a5.7 5.7 0 1 0 -11.4 0M489.37 195.02m-5.7 0a5.7 5.7 0 1 0 11.4 0a5.7 5.7 0 1 0 -11.4 0M491.15 195.85m-5.7 0a5.7 5.7 0 1 0 11.4 0a5.7 5.7 0 1 0 -11.4 0M492.93 198.96m-5.7 0a5.7 5.7 0 1 0 11.4 0a5.7 5.7 0 1 0 -11.4 0M494.71 194.73m-5.7 0a5.7 5.7 0 1 0 11.4 0a5.7 5.7 0 1 0 -11.4 0M496.49 196.82m-5.7 0a5.7 5.7 0 1 0 11.4 0a5.7 5.7 0 1 0 -11.4 0M498.27 192.99m-5.7 0a5.7 5.7 0 1 0 11.4 0a5.7 5.7 0 1 0 -11.4 0M500.05 194.55m-5.7 0a5.7 5.7 0 1 0 11.4 0a5.7 5.7 0 1 0 -11.4 0M501.82 195.7m-5.7 0a5.7 5.7 0 1 0 11.4 0a5.7 5.7 0 1 0 -11.4 0M503.6 194.25m-5.7 0a5.7 5.7 0 1 0 11.4 0a5.7 5.7 0 1 0 -11.4 0M505.38 193.58m-5.7 0a5.7 5.7 0 1 0 11.4 0a5.7 5.7 0 1 0 -11.4 0M507.16 196.78m-5.7 0a5.7 5.7 0 1 0 11.4 0a5.7 5.7 0 1 0 -11.4 0M508.94 193.7m-5.7 0a5.7 5.7 0 1 0 11.4 0a5.7 5.7 0 1 0 -11.4 0M510.72 194.85m-5.7 0a5.7 5.7 0 1 0 11.4 0a5.7 5.7 0 1 0 -11.4 0" fill="none" stroke="#1746a2" stroke-width="1.9"/>
<polyline points="85.5,457.5 87.28,434.25 89.06,421.58 90.84,413.54 92.62,403.94 94.4,395.56 96.17,389.08 97.95,381.64 99.73,376.79 101.51,372.88 103.29,368.95 105.07,365.11 106.85,361.35 108.63,357.4 110.41,353.77 112.19,350.63 113.97,346.86 115.75,343.82 117.53,340.67 119.3,337.56 121.08,335.24 122.86,332.9 124.64,330.36 126.42,328.71 128.2,326.62 129.98,324.32 131.76,322.74 133.54,320.7 135.32,318.7 137.1,317.16 138.88,315.54 140.65,314.91 142.43,313.68 144.21,312.98 145.99,311.9 147.77,309.96 149.55,308.55 151.33,308.4 153.11,307.13 154.89,305.18 156.67,303.38 158.45,303.72 160.22,303.03 162,302.72 163.78,300.1 165.56,300.5 167.34,299.82 169.12,299.17 170.9,298.04 172.68,297.54 174.46,297.35 176.24,295.7 178.02,295.53 179.8,294.63 181.57,295.38 183.35,294.79 185.13,293.82 186.91,293.17 188.69,293.47 190.47,293.74 192.25,293.15 194.03,293.23 195.81,291.51 197.59,291.59 199.37,291.11 201.15,291.92 202.93,292.49 204.7,291.11 206.48,290.5 208.26,290.66 210.04,290.4 211.82,289.17 213.6,289.79 215.38,288.94 217.16,289.22 218.94,289.19 220.72,288.85 222.5,289.27 224.28,287.93 226.05,289.08 227.83,288.98 229.61,289.39 231.39,289.65 233.17,289.55 234.95,287.88 236.73,288.71 238.51,287.41 240.29,287.17 242.07,288.11 243.85,286.74 245.62,287.15 247.4,286.38 249.18,287.43 250.96,286.81 252.74,287.73 254.52,286.79 256.3,287.17 258.08,286.66 259.86,286.54 261.64,287.26 263.42,287.27 265.2,286.4 266.98,286.26 268.75,287.5 270.53,286.24 272.31,286.27 274.09,287.25 275.87,286.84 277.65,288.11 279.43,286.12 281.21,286.61 282.99,286.29 284.77,285.48 286.55,286.37 288.32,285.99 290.1,287.16 291.88,287.31 293.66,288.22 295.44,287.67 297.22,286.8 299,287.28 300.78,286.86 302.56,287.84 304.34,287.89 306.12,287.85 307.9,287.4 309.68,287.71 311.45,287.83 313.23,287.53 315.01,288.13 316.79,287.87 318.57,287.06 320.35,288.15 322.13,287.5 323.91,286.25 325.69,286.96 327.47,286.86 329.25,287.64 331.02,285.58 332.8,287.7 334.58,287.08 336.36,287.04 338.14,285.57 339.92,286.7 341.7,287.11 343.48,287.54 345.26,286.46 347.04,286.79 348.82,287.51 350.6,288.12 352.38,288.02 354.15,287.21 355.93,287.19 357.71,287.41 359.49,287.4 361.27,288.13 363.05,286.95 364.83,287.49 366.61,286.85 368.39,286.67 370.17,287.17 371.95,287.25 373.73,286.13 375.5,286.67 377.28,287.24 379.06,288.31 380.84,286.51 382.62,286.5 384.4,286.37 386.18,287.38 387.96,287.25 389.74,287.02 391.52,286.55 393.3,288.26 395.07,287.6 396.85,287.84 398.63,287.05 400.41,288.19 402.19,286.98 403.97,287.12 405.75,287.08 407.53,287.27 409.31,286.85 411.09,288.24 412.87,286.7 414.65,287.2 416.43,287.94 418.2,286.77 419.98,287.06 421.76,286.26 423.54,287.67 425.32,288.07 427.1,286.84 428.88,286.29 430.66,287.3 432.44,287.43 434.22,288.57 436,289.32 437.77,288.79 439.55,287.53 441.33,289.54 443.11,289.04 444.89,289.96 446.67,288.65 448.45,287.88 450.23,289.02 452.01,288.57 453.79,287.45 455.57,288.39 457.35,289.13 459.12,288.99 460.9,289.14 462.68,287.2 464.46,287.87 466.24,286.52 468.02,286.18 469.8,286.9 471.58,287.11 473.36,286.44 475.14,286.49 476.92,286.41 478.7,288.12 480.48,287.07 482.25,288.06 484.03,289.06 485.81,288.55 487.59,287.93 489.37,286.87 491.15,288.3 492.93,288.7 494.71,286.57 496.49,287.37 498.27,287.26 500.05,287.9 501.82,288.21 503.6,286.9 505.38,287.92 507.16,287.71 508.94,287.13 510.72,285.91" fill="none" stroke="#ed1c24" stroke-width="3.5" stroke-linejoin="round" stroke-linecap="round"/>
<text x="89.6" y="69.4" font-size="41.3" fill="#000" stroke="#000" stroke-width="0" text-anchor="start" letter-spacing=".9">(a)</text>
<text font-size="18.87" fill="#3846a6" stroke="#3846a6" stroke-width=".3"><tspan x="169.2" y="140.7">Translation of the camera lens</tspan><tspan x="428.9" y="140.7" font-style="italic">k</tspan><tspan x="438.5" y="145.3" font-size="11.8" stroke-width=".15">L1</tspan><tspan x="452.4" y="140.5" font-size="21.5" stroke="none" font-family='"DejaVu Sans", sans-serif' font-weight="200">×</tspan><tspan x="471.2" y="140.7">T(</tspan><tspan x="489.5" y="140.7" font-style="italic">t</tspan><tspan x="494.5" y="145.3" font-size="11.8" stroke-width=".15">i</tspan><tspan x="497.2" y="140.7">)</tspan></text>
<text font-size="18.87" fill="#1746a2" stroke="#1746a2" stroke-width=".3"><tspan x="158.8" y="242">Translation of the camera sensor</tspan><tspan x="440" y="242" font-style="italic">k</tspan><tspan x="449.6" y="246.6" font-size="11.8" stroke-width=".15">S1</tspan><tspan x="464.8" y="241.8" font-size="21.5" stroke="none" font-family='"DejaVu Sans", sans-serif' font-weight="200">×</tspan><tspan x="483.6" y="242">T(</tspan><tspan x="501.9" y="242" font-style="italic">t</tspan><tspan x="506.9" y="246.6" font-size="11.8" stroke-width=".15">i</tspan><tspan x="509.6" y="242">)</tspan></text>
<text font-size="18.87" fill="#f2060f" stroke="#f2060f" stroke-width=".3"><tspan x="118.2" y="362.9">Temperature variation taken from real test</tspan><tspan x="475.6" y="362.9" font-style="italic">T</tspan><tspan x="486.4" y="362.9">(</tspan><tspan x="492.8" y="362.9" font-style="italic">t</tspan><tspan x="497.8" y="367.5" font-size="11.8" stroke-width=".15">i</tspan><tspan x="501.2" y="362.9">)</tspan></text>
<line x1="326.4" y1="127.3" x2="313.3" y2="98.36" stroke="#3846a6" stroke-width="1.7" />
<path d="M310.27 91.67L322.13 97.5L313.3 98.36L306.82 104.43z" fill="#3846a6"/>
<line x1="310.3" y1="230.3" x2="300.52" y2="206.84" stroke="#1746a2" stroke-width="1.7" />
<path d="M297.69 200.06L309.37 206.24L300.52 206.84L293.86 212.71z" fill="#1746a2"/>
<line x1="323.5" y1="342.5" x2="300.76" y2="301.23" stroke="#f2060f" stroke-width="1.7" />
<path d="M297.21 294.8L309.49 299.68L300.76 301.23L294.78 307.79z" fill="#f2060f"/>
<line x1="512.5" y1="30" x2="512.5" y2="458" stroke="#f2343c" stroke-width="1.0" />
<line x1="512.5" y1="457.5" x2="508.2" y2="457.5" stroke="#f2343c" stroke-width="1.0" />
<line x1="512.5" y1="350.75" x2="508.2" y2="350.75" stroke="#f2343c" stroke-width="1.0" />
<line x1="512.5" y1="244" x2="508.2" y2="244" stroke="#f2343c" stroke-width="1.0" />
<line x1="512.5" y1="137.25" x2="508.2" y2="137.25" stroke="#f2343c" stroke-width="1.0" />
<line x1="512.5" y1="30.5" x2="508.2" y2="30.5" stroke="#f2343c" stroke-width="1.0" />
<line x1="684.5" y1="457.5" x2="1111.5" y2="457.5" stroke="#5a5a5a" stroke-width="1.0" />
<line x1="684.5" y1="30.5" x2="1111.5" y2="30.5" stroke="#5a5a5a" stroke-width="1.0" />
<line x1="684.5" y1="457.5" x2="684.5" y2="453.2" stroke="#5a5a5a" stroke-width="1.0" />
<line x1="684.5" y1="30.5" x2="684.5" y2="34.8" stroke="#5a5a5a" stroke-width="1.0" />
<text x="684.5" y="485.6" font-size="20.0" fill="#303030" stroke="#303030" stroke-width="0.12" text-anchor="middle" >0</text>
<line x1="755.67" y1="457.5" x2="755.67" y2="453.2" stroke="#5a5a5a" stroke-width="1.0" />
<line x1="755.67" y1="30.5" x2="755.67" y2="34.8" stroke="#5a5a5a" stroke-width="1.0" />
<text x="755.67" y="485.6" font-size="20.0" fill="#303030" stroke="#303030" stroke-width="0.12" text-anchor="middle" >20</text>
<line x1="826.83" y1="457.5" x2="826.83" y2="453.2" stroke="#5a5a5a" stroke-width="1.0" />
<line x1="826.83" y1="30.5" x2="826.83" y2="34.8" stroke="#5a5a5a" stroke-width="1.0" />
<text x="826.83" y="485.6" font-size="20.0" fill="#303030" stroke="#303030" stroke-width="0.12" text-anchor="middle" >40</text>
<line x1="898" y1="457.5" x2="898" y2="453.2" stroke="#5a5a5a" stroke-width="1.0" />
<line x1="898" y1="30.5" x2="898" y2="34.8" stroke="#5a5a5a" stroke-width="1.0" />
<text x="898" y="485.6" font-size="20.0" fill="#303030" stroke="#303030" stroke-width="0.12" text-anchor="middle" >60</text>
<line x1="969.17" y1="457.5" x2="969.17" y2="453.2" stroke="#5a5a5a" stroke-width="1.0" />
<line x1="969.17" y1="30.5" x2="969.17" y2="34.8" stroke="#5a5a5a" stroke-width="1.0" />
<text x="969.17" y="485.6" font-size="20.0" fill="#303030" stroke="#303030" stroke-width="0.12" text-anchor="middle" >80</text>
<line x1="1040.33" y1="457.5" x2="1040.33" y2="453.2" stroke="#5a5a5a" stroke-width="1.0" />
<line x1="1040.33" y1="30.5" x2="1040.33" y2="34.8" stroke="#5a5a5a" stroke-width="1.0" />
<text x="1040.33" y="485.6" font-size="20.0" fill="#303030" stroke="#303030" stroke-width="0.12" text-anchor="middle" >100</text>
<line x1="1111.5" y1="457.5" x2="1111.5" y2="453.2" stroke="#5a5a5a" stroke-width="1.0" />
<line x1="1111.5" y1="30.5" x2="1111.5" y2="34.8" stroke="#5a5a5a" stroke-width="1.0" />
<text x="1111.5" y="485.6" font-size="20.0" fill="#303030" stroke="#303030" stroke-width="0.12" text-anchor="middle" >120</text>
<text x="897.2" y="514.2" font-size="22.6" fill="#303030" stroke="#303030" stroke-width="0.12" text-anchor="middle" letter-spacing=".27">Time (min)</text>
<line x1="684.5" y1="30" x2="684.5" y2="458" stroke="#5a5a5a" stroke-width="1.0" />
<line x1="684.5" y1="457.5" x2="688.8" y2="457.5" stroke="#5a5a5a" stroke-width="1.0" />
<text x="676.5" y="464.8" font-size="20.0" fill="#303030" stroke="#303030" stroke-width="0.12" text-anchor="end" >0</text>
<line x1="684.5" y1="386.33" x2="688.8" y2="386.33" stroke="#5a5a5a" stroke-width="1.0" />
<text x="676.5" y="393.63" font-size="20.0" fill="#303030" stroke="#303030" stroke-width="0.12" text-anchor="end" >0.005</text>
<line x1="684.5" y1="315.17" x2="688.8" y2="315.17" stroke="#5a5a5a" stroke-width="1.0" />
<text x="676.5" y="322.47" font-size="20.0" fill="#303030" stroke="#303030" stroke-width="0.12" text-anchor="end" >0.01</text>
<line x1="684.5" y1="244" x2="688.8" y2="244" stroke="#5a5a5a" stroke-width="1.0" />
<text x="676.5" y="251.3" font-size="20.0" fill="#303030" stroke="#303030" stroke-width="0.12" text-anchor="end" >0.015</text>
<line x1="684.5" y1="172.83" x2="688.8" y2="172.83" stroke="#5a5a5a" stroke-width="1.0" />
<text x="676.5" y="180.13" font-size="20.0" fill="#303030" stroke="#303030" stroke-width="0.12" text-anchor="end" >0.02</text>
<line x1="684.5" y1="101.67" x2="688.8" y2="101.67" stroke="#5a5a5a" stroke-width="1.0" />
<text x="676.5" y="108.97" font-size="20.0" fill="#303030" stroke="#303030" stroke-width="0.12" text-anchor="end" >0.025</text>
<line x1="684.5" y1="30.5" x2="688.8" y2="30.5" stroke="#5a5a5a" stroke-width="1.0" />
<text x="676.5" y="37.8" font-size="20.0" fill="#303030" stroke="#303030" stroke-width="0.12" text-anchor="end" >0.03</text>
<line x1="1111.5" y1="30" x2="1111.5" y2="458" stroke="#5a5a5a" stroke-width="1.0" />
<line x1="1111.5" y1="457.5" x2="1107.2" y2="457.5" stroke="#5a5a5a" stroke-width="1.0" />
<line x1="1111.5" y1="386.33" x2="1107.2" y2="386.33" stroke="#5a5a5a" stroke-width="1.0" />
<line x1="1111.5" y1="315.17" x2="1107.2" y2="315.17" stroke="#5a5a5a" stroke-width="1.0" />
<line x1="1111.5" y1="244" x2="1107.2" y2="244" stroke="#5a5a5a" stroke-width="1.0" />
<line x1="1111.5" y1="172.83" x2="1107.2" y2="172.83" stroke="#5a5a5a" stroke-width="1.0" />
<line x1="1111.5" y1="101.67" x2="1107.2" y2="101.67" stroke="#5a5a5a" stroke-width="1.0" />
<line x1="1111.5" y1="30.5" x2="1107.2" y2="30.5" stroke="#5a5a5a" stroke-width="1.0" />
<text transform="translate(613.9 244) rotate(-90)" font-size="22.6" fill="#303030" stroke="#303030" stroke-width="0.12" letter-spacing="0.45" text-anchor="middle">Simulated displacement errors (mm)</text>
<path d="M684.5 457.5m-5.7 0a5.7 5.7 0 1 0 11.4 0a5.7 5.7 0 1 0 -11.4 0M686.28 435.93m-5.7 0a5.7 5.7 0 1 0 11.4 0a5.7 5.7 0 1 0 -11.4 0M688.06 424.15m-5.7 0a5.7 5.7 0 1 0 11.4 0a5.7 5.7 0 1 0 -11.4 0M689.84 416.69m-5.7 0a5.7 5.7 0 1 0 11.4 0a5.7 5.7 0 1 0 -11.4 0M691.62 407.91m-5.7 0a5.7 5.7 0 1 0 11.4 0a5.7 5.7 0 1 0 -11.4 0M693.4 400.12m-5.7 0a5.7 5.7 0 1 0 11.4 0a5.7 5.7 0 1 0 -11.4 0M695.17 394m-5.7 0a5.7 5.7 0 1 0 11.4 0a5.7 5.7 0 1 0 -11.4 0M696.95 387.22m-5.7 0a5.7 5.7 0 1 0 11.4 0a5.7 5.7 0 1 0 -11.4 0M698.73 382.61m-5.7 0a5.7 5.7 0 1 0 11.4 0a5.7 5.7 0 1 0 -11.4 0M700.51 379.2m-5.7 0a5.7 5.7 0 1 0 11.4 0a5.7 5.7 0 1 0 -11.4 0M702.29 375.26m-5.7 0a5.7 5.7 0 1 0 11.4 0a5.7 5.7 0 1 0 -11.4 0M704.07 371.74m-5.7 0a5.7 5.7 0 1 0 11.4 0a5.7 5.7 0 1 0 -11.4 0M705.85 368.33m-5.7 0a5.7 5.7 0 1 0 11.4 0a5.7 5.7 0 1 0 -11.4 0M707.63 364.87m-5.7 0a5.7 5.7 0 1 0 11.4 0a5.7 5.7 0 1 0 -11.4 0M709.41 361.4m-5.7 0a5.7 5.7 0 1 0 11.4 0a5.7 5.7 0 1 0 -11.4 0M711.19 358.44m-5.7 0a5.7 5.7 0 1 0 11.4 0a5.7 5.7 0 1 0 -11.4 0M712.97 354.92m-5.7 0a5.7 5.7 0 1 0 11.4 0a5.7 5.7 0 1 0 -11.4 0M714.75 352.18m-5.7 0a5.7 5.7 0 1 0 11.4 0a5.7 5.7 0 1 0 -11.4 0M716.52 349.29m-5.7 0a5.7 5.7 0 1 0 11.4 0a5.7 5.7 0 1 0 -11.4 0M718.3 346.31m-5.7 0a5.7 5.7 0 1 0 11.4 0a5.7 5.7 0 1 0 -11.4 0M720.08 343.86m-5.7 0a5.7 5.7 0 1 0 11.4 0a5.7 5.7 0 1 0 -11.4 0M721.86 342.57m-5.7 0a5.7 5.7 0 1 0 11.4 0a5.7 5.7 0 1 0 -11.4 0M723.64 340.07m-5.7 0a5.7 5.7 0 1 0 11.4 0a5.7 5.7 0 1 0 -11.4 0M725.42 338.61m-5.7 0a5.7 5.7 0 1 0 11.4 0a5.7 5.7 0 1 0 -11.4 0M727.2 336.43m-5.7 0a5.7 5.7 0 1 0 11.4 0a5.7 5.7 0 1 0 -11.4 0M728.98 334.64m-5.7 0a5.7 5.7 0 1 0 11.4 0a5.7 5.7 0 1 0 -11.4 0M730.76 332.44m-5.7 0a5.7 5.7 0 1 0 11.4 0a5.7 5.7 0 1 0 -11.4 0M732.54 330.7m-5.7 0a5.7 5.7 0 1 0 11.4 0a5.7 5.7 0 1 0 -11.4 0M734.32 328.97m-5.7 0a5.7 5.7 0 1 0 11.4 0a5.7 5.7 0 1 0 -11.4 0M736.1 327.7m-5.7 0a5.7 5.7 0 1 0 11.4 0a5.7 5.7 0 1 0 -11.4 0M737.88 325.89m-5.7 0a5.7 5.7 0 1 0 11.4 0a5.7 5.7 0 1 0 -11.4 0M739.65 325.3m-5.7 0a5.7 5.7 0 1 0 11.4 0a5.7 5.7 0 1 0 -11.4 0M741.43 324.09m-5.7 0a5.7 5.7 0 1 0 11.4 0a5.7 5.7 0 1 0 -11.4 0M743.21 323.89m-5.7 0a5.7 5.7 0 1 0 11.4 0a5.7 5.7 0 1 0 -11.4 0M744.99 322.3m-5.7 0a5.7 5.7 0 1 0 11.4 0a5.7 5.7 0 1 0 -11.4 0M746.77 321.43m-5.7 0a5.7 5.7 0 1 0 11.4 0a5.7 5.7 0 1 0 -11.4 0M748.55 318.9m-5.7 0a5.7 5.7 0 1 0 11.4 0a5.7 5.7 0 1 0 -11.4 0M750.33 320.78m-5.7 0a5.7 5.7 0 1 0 11.4 0a5.7 5.7 0 1 0 -11.4 0M752.11 318.45m-5.7 0a5.7 5.7 0 1 0 11.4 0a5.7 5.7 0 1 0 -11.4 0M753.89 316.94m-5.7 0a5.7 5.7 0 1 0 11.4 0a5.7 5.7 0 1 0 -11.4 0M755.67 314.28m-5.7 0a5.7 5.7 0 1 0 11.4 0a5.7 5.7 0 1 0 -11.4 0M757.45 315.77m-5.7 0a5.7 5.7 0 1 0 11.4 0a5.7 5.7 0 1 0 -11.4 0M759.23 313.39m-5.7 0a5.7 5.7 0 1 0 11.4 0a5.7 5.7 0 1 0 -11.4 0M761 314.92m-5.7 0a5.7 5.7 0 1 0 11.4 0a5.7 5.7 0 1 0 -11.4 0M762.78 310.51m-5.7 0a5.7 5.7 0 1 0 11.4 0a5.7 5.7 0 1 0 -11.4 0M764.56 311.76m-5.7 0a5.7 5.7 0 1 0 11.4 0a5.7 5.7 0 1 0 -11.4 0M766.34 311.36m-5.7 0a5.7 5.7 0 1 0 11.4 0a5.7 5.7 0 1 0 -11.4 0M768.12 310.52m-5.7 0a5.7 5.7 0 1 0 11.4 0a5.7 5.7 0 1 0 -11.4 0M769.9 308.39m-5.7 0a5.7 5.7 0 1 0 11.4 0a5.7 5.7 0 1 0 -11.4 0M771.68 308.72m-5.7 0a5.7 5.7 0 1 0 11.4 0a5.7 5.7 0 1 0 -11.4 0M773.46 310.52m-5.7 0a5.7 5.7 0 1 0 11.4 0a5.7 5.7 0 1 0 -11.4 0M775.24 306.79m-5.7 0a5.7 5.7 0 1 0 11.4 0a5.7 5.7 0 1 0 -11.4 0M777.02 307.26m-5.7 0a5.7 5.7 0 1 0 11.4 0a5.7 5.7 0 1 0 -11.4 0M778.8 307.67m-5.7 0a5.7 5.7 0 1 0 11.4 0a5.7 5.7 0 1 0 -11.4 0M780.58 306.75m-5.7 0a5.7 5.7 0 1 0 11.4 0a5.7 5.7 0 1 0 -11.4 0M782.35 307.57m-5.7 0a5.7 5.7 0 1 0 11.4 0a5.7 5.7 0 1 0 -11.4 0M784.13 305.69m-5.7 0a5.7 5.7 0 1 0 11.4 0a5.7 5.7 0 1 0 -11.4 0M785.91 305.05m-5.7 0a5.7 5.7 0 1 0 11.4 0a5.7 5.7 0 1 0 -11.4 0M787.69 305.96m-5.7 0a5.7 5.7 0 1 0 11.4 0a5.7 5.7 0 1 0 -11.4 0M789.47 305.29m-5.7 0a5.7 5.7 0 1 0 11.4 0a5.7 5.7 0 1 0 -11.4 0M791.25 305.93m-5.7 0a5.7 5.7 0 1 0 11.4 0a5.7 5.7 0 1 0 -11.4 0M793.03 305.14m-5.7 0a5.7 5.7 0 1 0 11.4 0a5.7 5.7 0 1 0 -11.4 0M794.81 304.08m-5.7 0a5.7 5.7 0 1 0 11.4 0a5.7 5.7 0 1 0 -11.4 0M796.59 303.89m-5.7 0a5.7 5.7 0 1 0 11.4 0a5.7 5.7 0 1 0 -11.4 0M798.37 301.94m-5.7 0a5.7 5.7 0 1 0 11.4 0a5.7 5.7 0 1 0 -11.4 0M800.15 303.98m-5.7 0a5.7 5.7 0 1 0 11.4 0a5.7 5.7 0 1 0 -11.4 0M801.92 305.36m-5.7 0a5.7 5.7 0 1 0 11.4 0a5.7 5.7 0 1 0 -11.4 0M803.7 303.4m-5.7 0a5.7 5.7 0 1 0 11.4 0a5.7 5.7 0 1 0 -11.4 0M805.48 303.29m-5.7 0a5.7 5.7 0 1 0 11.4 0a5.7 5.7 0 1 0 -11.4 0M807.26 302.87m-5.7 0a5.7 5.7 0 1 0 11.4 0a5.7 5.7 0 1 0 -11.4 0M809.04 302.54m-5.7 0a5.7 5.7 0 1 0 11.4 0a5.7 5.7 0 1 0 -11.4 0M810.82 301.45m-5.7 0a5.7 5.7 0 1 0 11.4 0a5.7 5.7 0 1 0 -11.4 0M812.6 302.03m-5.7 0a5.7 5.7 0 1 0 11.4 0a5.7 5.7 0 1 0 -11.4 0M814.38 301.69m-5.7 0a5.7 5.7 0 1 0 11.4 0a5.7 5.7 0 1 0 -11.4 0M816.16 301.24m-5.7 0a5.7 5.7 0 1 0 11.4 0a5.7 5.7 0 1 0 -11.4 0M817.94 300.78m-5.7 0a5.7 5.7 0 1 0 11.4 0a5.7 5.7 0 1 0 -11.4 0M819.72 301.66m-5.7 0a5.7 5.7 0 1 0 11.4 0a5.7 5.7 0 1 0 -11.4 0M821.5 301.65m-5.7 0a5.7 5.7 0 1 0 11.4 0a5.7 5.7 0 1 0 -11.4 0M823.27 300.33m-5.7 0a5.7 5.7 0 1 0 11.4 0a5.7 5.7 0 1 0 -11.4 0M825.05 300.54m-5.7 0a5.7 5.7 0 1 0 11.4 0a5.7 5.7 0 1 0 -11.4 0M826.83 300.57m-5.7 0a5.7 5.7 0 1 0 11.4 0a5.7 5.7 0 1 0 -11.4 0M828.61 302.24m-5.7 0a5.7 5.7 0 1 0 11.4 0a5.7 5.7 0 1 0 -11.4 0M830.39 301.91m-5.7 0a5.7 5.7 0 1 0 11.4 0a5.7 5.7 0 1 0 -11.4 0M832.17 302.93m-5.7 0a5.7 5.7 0 1 0 11.4 0a5.7 5.7 0 1 0 -11.4 0M833.95 301.01m-5.7 0a5.7 5.7 0 1 0 11.4 0a5.7 5.7 0 1 0 -11.4 0M835.73 301.08m-5.7 0a5.7 5.7 0 1 0 11.4 0a5.7 5.7 0 1 0 -11.4 0M837.51 299.44m-5.7 0a5.7 5.7 0 1 0 11.4 0a5.7 5.7 0 1 0 -11.4 0M839.29 298.98m-5.7 0a5.7 5.7 0 1 0 11.4 0a5.7 5.7 0 1 0 -11.4 0M841.07 300.75m-5.7 0a5.7 5.7 0 1 0 11.4 0a5.7 5.7 0 1 0 -11.4 0M842.85 300.23m-5.7 0a5.7 5.7 0 1 0 11.4 0a5.7 5.7 0 1 0 -11.4 0M844.62 299.36m-5.7 0a5.7 5.7 0 1 0 11.4 0a5.7 5.7 0 1 0 -11.4 0M846.4 299.06m-5.7 0a5.7 5.7 0 1 0 11.4 0a5.7 5.7 0 1 0 -11.4 0M848.18 299.6m-5.7 0a5.7 5.7 0 1 0 11.4 0a5.7 5.7 0 1 0 -11.4 0M849.96 299.21m-5.7 0a5.7 5.7 0 1 0 11.4 0a5.7 5.7 0 1 0 -11.4 0M851.74 299.67m-5.7 0a5.7 5.7 0 1 0 11.4 0a5.7 5.7 0 1 0 -11.4 0M853.52 298.85m-5.7 0a5.7 5.7 0 1 0 11.4 0a5.7 5.7 0 1 0 -11.4 0M855.3 299.06m-5.7 0a5.7 5.7 0 1 0 11.4 0a5.7 5.7 0 1 0 -11.4 0M857.08 299.52m-5.7 0a5.7 5.7 0 1 0 11.4 0a5.7 5.7 0 1 0 -11.4 0M858.86 298.37m-5.7 0a5.7 5.7 0 1 0 11.4 0a5.7 5.7 0 1 0 -11.4 0M860.64 300.1m-5.7 0a5.7 5.7 0 1 0 11.4 0a5.7 5.7 0 1 0 -11.4 0M862.42 299.69m-5.7 0a5.7 5.7 0 1 0 11.4 0a5.7 5.7 0 1 0 -11.4 0M864.2 297.62m-5.7 0a5.7 5.7 0 1 0 11.4 0a5.7 5.7 0 1 0 -11.4 0M865.98 298.57m-5.7 0a5.7 5.7 0 1 0 11.4 0a5.7 5.7 0 1 0 -11.4 0M867.75 300.8m-5.7 0a5.7 5.7 0 1 0 11.4 0a5.7 5.7 0 1 0 -11.4 0M869.53 297.74m-5.7 0a5.7 5.7 0 1 0 11.4 0a5.7 5.7 0 1 0 -11.4 0M871.31 298.12m-5.7 0a5.7 5.7 0 1 0 11.4 0a5.7 5.7 0 1 0 -11.4 0M873.09 298.92m-5.7 0a5.7 5.7 0 1 0 11.4 0a5.7 5.7 0 1 0 -11.4 0M874.87 299.22m-5.7 0a5.7 5.7 0 1 0 11.4 0a5.7 5.7 0 1 0 -11.4 0M876.65 300.29m-5.7 0a5.7 5.7 0 1 0 11.4 0a5.7 5.7 0 1 0 -11.4 0M878.43 298.86m-5.7 0a5.7 5.7 0 1 0 11.4 0a5.7 5.7 0 1 0 -11.4 0M880.21 299.64m-5.7 0a5.7 5.7 0 1 0 11.4 0a5.7 5.7 0 1 0 -11.4 0M881.99 297.75m-5.7 0a5.7 5.7 0 1 0 11.4 0a5.7 5.7 0 1 0 -11.4 0M883.77 298.36m-5.7 0a5.7 5.7 0 1 0 11.4 0a5.7 5.7 0 1 0 -11.4 0M885.55 299.27m-5.7 0a5.7 5.7 0 1 0 11.4 0a5.7 5.7 0 1 0 -11.4 0M887.33 298.88m-5.7 0a5.7 5.7 0 1 0 11.4 0a5.7 5.7 0 1 0 -11.4 0M889.1 298.33m-5.7 0a5.7 5.7 0 1 0 11.4 0a5.7 5.7 0 1 0 -11.4 0M890.88 299.17m-5.7 0a5.7 5.7 0 1 0 11.4 0a5.7 5.7 0 1 0 -11.4 0M892.66 300.9m-5.7 0a5.7 5.7 0 1 0 11.4 0a5.7 5.7 0 1 0 -11.4 0M894.44 300.16m-5.7 0a5.7 5.7 0 1 0 11.4 0a5.7 5.7 0 1 0 -11.4 0M896.22 298.95m-5.7 0a5.7 5.7 0 1 0 11.4 0a5.7 5.7 0 1 0 -11.4 0M898 299.14m-5.7 0a5.7 5.7 0 1 0 11.4 0a5.7 5.7 0 1 0 -11.4 0M899.78 300.52m-5.7 0a5.7 5.7 0 1 0 11.4 0a5.7 5.7 0 1 0 -11.4 0M901.56 299.64m-5.7 0a5.7 5.7 0 1 0 11.4 0a5.7 5.7 0 1 0 -11.4 0M903.34 300.48m-5.7 0a5.7 5.7 0 1 0 11.4 0a5.7 5.7 0 1 0 -11.4 0M905.12 300.78m-5.7 0a5.7 5.7 0 1 0 11.4 0a5.7 5.7 0 1 0 -11.4 0M906.9 300.15m-5.7 0a5.7 5.7 0 1 0 11.4 0a5.7 5.7 0 1 0 -11.4 0M908.67 299.6m-5.7 0a5.7 5.7 0 1 0 11.4 0a5.7 5.7 0 1 0 -11.4 0M910.45 299.02m-5.7 0a5.7 5.7 0 1 0 11.4 0a5.7 5.7 0 1 0 -11.4 0M912.23 299.89m-5.7 0a5.7 5.7 0 1 0 11.4 0a5.7 5.7 0 1 0 -11.4 0M914.01 300.15m-5.7 0a5.7 5.7 0 1 0 11.4 0a5.7 5.7 0 1 0 -11.4 0M915.79 300.89m-5.7 0a5.7 5.7 0 1 0 11.4 0a5.7 5.7 0 1 0 -11.4 0M917.57 299.21m-5.7 0a5.7 5.7 0 1 0 11.4 0a5.7 5.7 0 1 0 -11.4 0M919.35 299.99m-5.7 0a5.7 5.7 0 1 0 11.4 0a5.7 5.7 0 1 0 -11.4 0M921.13 301.02m-5.7 0a5.7 5.7 0 1 0 11.4 0a5.7 5.7 0 1 0 -11.4 0M922.91 299.17m-5.7 0a5.7 5.7 0 1 0 11.4 0a5.7 5.7 0 1 0 -11.4 0M924.69 298.9m-5.7 0a5.7 5.7 0 1 0 11.4 0a5.7 5.7 0 1 0 -11.4 0M926.47 300.63m-5.7 0a5.7 5.7 0 1 0 11.4 0a5.7 5.7 0 1 0 -11.4 0M928.25 300.36m-5.7 0a5.7 5.7 0 1 0 11.4 0a5.7 5.7 0 1 0 -11.4 0M930.02 297.76m-5.7 0a5.7 5.7 0 1 0 11.4 0a5.7 5.7 0 1 0 -11.4 0M931.8 301.35m-5.7 0a5.7 5.7 0 1 0 11.4 0a5.7 5.7 0 1 0 -11.4 0M933.58 299.86m-5.7 0a5.7 5.7 0 1 0 11.4 0a5.7 5.7 0 1 0 -11.4 0M935.36 299.5m-5.7 0a5.7 5.7 0 1 0 11.4 0a5.7 5.7 0 1 0 -11.4 0M937.14 297.54m-5.7 0a5.7 5.7 0 1 0 11.4 0a5.7 5.7 0 1 0 -11.4 0M938.92 300.14m-5.7 0a5.7 5.7 0 1 0 11.4 0a5.7 5.7 0 1 0 -11.4 0M940.7 298.81m-5.7 0a5.7 5.7 0 1 0 11.4 0a5.7 5.7 0 1 0 -11.4 0M942.48 299.78m-5.7 0a5.7 5.7 0 1 0 11.4 0a5.7 5.7 0 1 0 -11.4 0M944.26 298.15m-5.7 0a5.7 5.7 0 1 0 11.4 0a5.7 5.7 0 1 0 -11.4 0M946.04 298.48m-5.7 0a5.7 5.7 0 1 0 11.4 0a5.7 5.7 0 1 0 -11.4 0M947.82 299.73m-5.7 0a5.7 5.7 0 1 0 11.4 0a5.7 5.7 0 1 0 -11.4 0M949.6 300.2m-5.7 0a5.7 5.7 0 1 0 11.4 0a5.7 5.7 0 1 0 -11.4 0M951.38 301.68m-5.7 0a5.7 5.7 0 1 0 11.4 0a5.7 5.7 0 1 0 -11.4 0M953.15 300.66m-5.7 0a5.7 5.7 0 1 0 11.4 0a5.7 5.7 0 1 0 -11.4 0M954.93 300.39m-5.7 0a5.7 5.7 0 1 0 11.4 0a5.7 5.7 0 1 0 -11.4 0M956.71 300.13m-5.7 0a5.7 5.7 0 1 0 11.4 0a5.7 5.7 0 1 0 -11.4 0M958.49 299.21m-5.7 0a5.7 5.7 0 1 0 11.4 0a5.7 5.7 0 1 0 -11.4 0M960.27 301.82m-5.7 0a5.7 5.7 0 1 0 11.4 0a5.7 5.7 0 1 0 -11.4 0M962.05 299.69m-5.7 0a5.7 5.7 0 1 0 11.4 0a5.7 5.7 0 1 0 -11.4 0M963.83 300.9m-5.7 0a5.7 5.7 0 1 0 11.4 0a5.7 5.7 0 1 0 -11.4 0M965.61 300.48m-5.7 0a5.7 5.7 0 1 0 11.4 0a5.7 5.7 0 1 0 -11.4 0M967.39 298.15m-5.7 0a5.7 5.7 0 1 0 11.4 0a5.7 5.7 0 1 0 -11.4 0M969.17 299.59m-5.7 0a5.7 5.7 0 1 0 11.4 0a5.7 5.7 0 1 0 -11.4 0M970.95 298.57m-5.7 0a5.7 5.7 0 1 0 11.4 0a5.7 5.7 0 1 0 -11.4 0M972.73 297.85m-5.7 0a5.7 5.7 0 1 0 11.4 0a5.7 5.7 0 1 0 -11.4 0M974.5 299.85m-5.7 0a5.7 5.7 0 1 0 11.4 0a5.7 5.7 0 1 0 -11.4 0M976.28 301.05m-5.7 0a5.7 5.7 0 1 0 11.4 0a5.7 5.7 0 1 0 -11.4 0M978.06 299.25m-5.7 0a5.7 5.7 0 1 0 11.4 0a5.7 5.7 0 1 0 -11.4 0M979.84 299.34m-5.7 0a5.7 5.7 0 1 0 11.4 0a5.7 5.7 0 1 0 -11.4 0M981.62 299.85m-5.7 0a5.7 5.7 0 1 0 11.4 0a5.7 5.7 0 1 0 -11.4 0M983.4 298.42m-5.7 0a5.7 5.7 0 1 0 11.4 0a5.7 5.7 0 1 0 -11.4 0M985.18 299.76m-5.7 0a5.7 5.7 0 1 0 11.4 0a5.7 5.7 0 1 0 -11.4 0M986.96 300.21m-5.7 0a5.7 5.7 0 1 0 11.4 0a5.7 5.7 0 1 0 -11.4 0M988.74 299.76m-5.7 0a5.7 5.7 0 1 0 11.4 0a5.7 5.7 0 1 0 -11.4 0M990.52 298.97m-5.7 0a5.7 5.7 0 1 0 11.4 0a5.7 5.7 0 1 0 -11.4 0M992.3 300.61m-5.7 0a5.7 5.7 0 1 0 11.4 0a5.7 5.7 0 1 0 -11.4 0M994.08 299.52m-5.7 0a5.7 5.7 0 1 0 11.4 0a5.7 5.7 0 1 0 -11.4 0M995.85 300.53m-5.7 0a5.7 5.7 0 1 0 11.4 0a5.7 5.7 0 1 0 -11.4 0M997.63 299.79m-5.7 0a5.7 5.7 0 1 0 11.4 0a5.7 5.7 0 1 0 -11.4 0M999.41 300.18m-5.7 0a5.7 5.7 0 1 0 11.4 0a5.7 5.7 0 1 0 -11.4 0M1001.19 299.26m-5.7 0a5.7 5.7 0 1 0 11.4 0a5.7 5.7 0 1 0 -11.4 0M1002.97 298.83m-5.7 0a5.7 5.7 0 1 0 11.4 0a5.7 5.7 0 1 0 -11.4 0M1004.75 299.75m-5.7 0a5.7 5.7 0 1 0 11.4 0a5.7 5.7 0 1 0 -11.4 0M1006.53 299.82m-5.7 0a5.7 5.7 0 1 0 11.4 0a5.7 5.7 0 1 0 -11.4 0M1008.31 300.18m-5.7 0a5.7 5.7 0 1 0 11.4 0a5.7 5.7 0 1 0 -11.4 0M1010.09 299.58m-5.7 0a5.7 5.7 0 1 0 11.4 0a5.7 5.7 0 1 0 -11.4 0M1011.87 300.22m-5.7 0a5.7 5.7 0 1 0 11.4 0a5.7 5.7 0 1 0 -11.4 0M1013.65 299.55m-5.7 0a5.7 5.7 0 1 0 11.4 0a5.7 5.7 0 1 0 -11.4 0M1015.42 301.01m-5.7 0a5.7 5.7 0 1 0 11.4 0a5.7 5.7 0 1 0 -11.4 0M1017.2 299.05m-5.7 0a5.7 5.7 0 1 0 11.4 0a5.7 5.7 0 1 0 -11.4 0M1018.98 299.03m-5.7 0a5.7 5.7 0 1 0 11.4 0a5.7 5.7 0 1 0 -11.4 0M1020.76 299.99m-5.7 0a5.7 5.7 0 1 0 11.4 0a5.7 5.7 0 1 0 -11.4 0M1022.54 300.27m-5.7 0a5.7 5.7 0 1 0 11.4 0a5.7 5.7 0 1 0 -11.4 0M1024.32 301.74m-5.7 0a5.7 5.7 0 1 0 11.4 0a5.7 5.7 0 1 0 -11.4 0M1026.1 298.35m-5.7 0a5.7 5.7 0 1 0 11.4 0a5.7 5.7 0 1 0 -11.4 0M1027.88 299.17m-5.7 0a5.7 5.7 0 1 0 11.4 0a5.7 5.7 0 1 0 -11.4 0M1029.66 300.9m-5.7 0a5.7 5.7 0 1 0 11.4 0a5.7 5.7 0 1 0 -11.4 0M1031.44 300.41m-5.7 0a5.7 5.7 0 1 0 11.4 0a5.7 5.7 0 1 0 -11.4 0M1033.22 300.03m-5.7 0a5.7 5.7 0 1 0 11.4 0a5.7 5.7 0 1 0 -11.4 0M1035 300.59m-5.7 0a5.7 5.7 0 1 0 11.4 0a5.7 5.7 0 1 0 -11.4 0M1036.78 300.26m-5.7 0a5.7 5.7 0 1 0 11.4 0a5.7 5.7 0 1 0 -11.4 0M1038.55 300.55m-5.7 0a5.7 5.7 0 1 0 11.4 0a5.7 5.7 0 1 0 -11.4 0M1040.33 301.97m-5.7 0a5.7 5.7 0 1 0 11.4 0a5.7 5.7 0 1 0 -11.4 0M1042.11 300.23m-5.7 0a5.7 5.7 0 1 0 11.4 0a5.7 5.7 0 1 0 -11.4 0M1043.89 302.77m-5.7 0a5.7 5.7 0 1 0 11.4 0a5.7 5.7 0 1 0 -11.4 0M1045.67 301.27m-5.7 0a5.7 5.7 0 1 0 11.4 0a5.7 5.7 0 1 0 -11.4 0M1047.45 301m-5.7 0a5.7 5.7 0 1 0 11.4 0a5.7 5.7 0 1 0 -11.4 0M1049.23 302.2m-5.7 0a5.7 5.7 0 1 0 11.4 0a5.7 5.7 0 1 0 -11.4 0M1051.01 300.1m-5.7 0a5.7 5.7 0 1 0 11.4 0a5.7 5.7 0 1 0 -11.4 0M1052.79 299.47m-5.7 0a5.7 5.7 0 1 0 11.4 0a5.7 5.7 0 1 0 -11.4 0M1054.57 300.47m-5.7 0a5.7 5.7 0 1 0 11.4 0a5.7 5.7 0 1 0 -11.4 0M1056.35 301.07m-5.7 0a5.7 5.7 0 1 0 11.4 0a5.7 5.7 0 1 0 -11.4 0M1058.12 300.62m-5.7 0a5.7 5.7 0 1 0 11.4 0a5.7 5.7 0 1 0 -11.4 0M1059.9 300.41m-5.7 0a5.7 5.7 0 1 0 11.4 0a5.7 5.7 0 1 0 -11.4 0M1061.68 299.7m-5.7 0a5.7 5.7 0 1 0 11.4 0a5.7 5.7 0 1 0 -11.4 0M1063.46 300.55m-5.7 0a5.7 5.7 0 1 0 11.4 0a5.7 5.7 0 1 0 -11.4 0M1065.24 299.78m-5.7 0a5.7 5.7 0 1 0 11.4 0a5.7 5.7 0 1 0 -11.4 0M1067.02 297.97m-5.7 0a5.7 5.7 0 1 0 11.4 0a5.7 5.7 0 1 0 -11.4 0M1068.8 299.78m-5.7 0a5.7 5.7 0 1 0 11.4 0a5.7 5.7 0 1 0 -11.4 0M1070.58 300.67m-5.7 0a5.7 5.7 0 1 0 11.4 0a5.7 5.7 0 1 0 -11.4 0M1072.36 299.17m-5.7 0a5.7 5.7 0 1 0 11.4 0a5.7 5.7 0 1 0 -11.4 0M1074.14 299.02m-5.7 0a5.7 5.7 0 1 0 11.4 0a5.7 5.7 0 1 0 -11.4 0M1075.92 298.36m-5.7 0a5.7 5.7 0 1 0 11.4 0a5.7 5.7 0 1 0 -11.4 0M1077.7 299.83m-5.7 0a5.7 5.7 0 1 0 11.4 0a5.7 5.7 0 1 0 -11.4 0M1079.47 300.09m-5.7 0a5.7 5.7 0 1 0 11.4 0a5.7 5.7 0 1 0 -11.4 0M1081.25 301.06m-5.7 0a5.7 5.7 0 1 0 11.4 0a5.7 5.7 0 1 0 -11.4 0M1083.03 301.64m-5.7 0a5.7 5.7 0 1 0 11.4 0a5.7 5.7 0 1 0 -11.4 0M1084.81 301.8m-5.7 0a5.7 5.7 0 1 0 11.4 0a5.7 5.7 0 1 0 -11.4 0M1086.59 300.45m-5.7 0a5.7 5.7 0 1 0 11.4 0a5.7 5.7 0 1 0 -11.4 0M1088.37 299.06m-5.7 0a5.7 5.7 0 1 0 11.4 0a5.7 5.7 0 1 0 -11.4 0M1090.15 300.67m-5.7 0a5.7 5.7 0 1 0 11.4 0a5.7 5.7 0 1 0 -11.4 0M1091.93 302.22m-5.7 0a5.7 5.7 0 1 0 11.4 0a5.7 5.7 0 1 0 -11.4 0M1093.71 299.95m-5.7 0a5.7 5.7 0 1 0 11.4 0a5.7 5.7 0 1 0 -11.4 0M1095.49 298.93m-5.7 0a5.7 5.7 0 1 0 11.4 0a5.7 5.7 0 1 0 -11.4 0M1097.27 300.47m-5.7 0a5.7 5.7 0 1 0 11.4 0a5.7 5.7 0 1 0 -11.4 0M1099.05 299.82m-5.7 0a5.7 5.7 0 1 0 11.4 0a5.7 5.7 0 1 0 -11.4 0M1100.83 300.18m-5.7 0a5.7 5.7 0 1 0 11.4 0a5.7 5.7 0 1 0 -11.4 0M1102.6 299.64m-5.7 0a5.7 5.7 0 1 0 11.4 0a5.7 5.7 0 1 0 -11.4 0M1104.38 301.07m-5.7 0a5.7 5.7 0 1 0 11.4 0a5.7 5.7 0 1 0 -11.4 0M1106.16 300.01m-5.7 0a5.7 5.7 0 1 0 11.4 0a5.7 5.7 0 1 0 -11.4 0M1107.94 300.26m-5.7 0a5.7 5.7 0 1 0 11.4 0a5.7 5.7 0 1 0 -11.4 0M1109.72 298.62m-5.7 0a5.7 5.7 0 1 0 11.4 0a5.7 5.7 0 1 0 -11.4 0" fill="none" stroke="#1746a2" stroke-width="1.9"/>
<path d="M679.95 452.95h9.1v9.1h-9.1zM681.73 431.16h9.1v9.1h-9.1zM683.51 419.4h9.1v9.1h-9.1zM685.29 411.84h9.1v9.1h-9.1zM687.07 402.89h9.1v9.1h-9.1zM688.85 395.04h9.1v9.1h-9.1zM690.62 388.88h9.1v9.1h-9.1zM692.4 382.03h9.1v9.1h-9.1zM694.18 377.44h9.1v9.1h-9.1zM695.96 373.72h9.1v9.1h-9.1zM697.74 370.17h9.1v9.1h-9.1zM699.52 366.64h9.1v9.1h-9.1zM701.3 363.12h9.1v9.1h-9.1zM703.08 358.87h9.1v9.1h-9.1zM704.86 355.9h9.1v9.1h-9.1zM706.64 352.89h9.1v9.1h-9.1zM708.42 349.09h9.1v9.1h-9.1zM710.2 346.2h9.1v9.1h-9.1zM711.98 343.32h9.1v9.1h-9.1zM713.75 340.19h9.1v9.1h-9.1zM715.53 338.4h9.1v9.1h-9.1zM717.31 336.63h9.1v9.1h-9.1zM719.09 333.73h9.1v9.1h-9.1zM720.87 332.38h9.1v9.1h-9.1zM722.65 329.92h9.1v9.1h-9.1zM724.43 328.57h9.1v9.1h-9.1zM726.21 326.46h9.1v9.1h-9.1zM727.99 325.55h9.1v9.1h-9.1zM729.77 323.13h9.1v9.1h-9.1zM731.55 321.75h9.1v9.1h-9.1zM733.33 320.66h9.1v9.1h-9.1zM735.1 318.84h9.1v9.1h-9.1zM736.88 317.65h9.1v9.1h-9.1zM738.66 318.04h9.1v9.1h-9.1zM740.44 316.17h9.1v9.1h-9.1zM742.22 313.96h9.1v9.1h-9.1zM744 313.27h9.1v9.1h-9.1zM745.78 313.56h9.1v9.1h-9.1zM747.56 311.72h9.1v9.1h-9.1zM749.34 310.5h9.1v9.1h-9.1zM751.12 308.43h9.1v9.1h-9.1zM752.9 308.54h9.1v9.1h-9.1zM754.68 308.75h9.1v9.1h-9.1zM756.45 307.58h9.1v9.1h-9.1zM758.23 305.5h9.1v9.1h-9.1zM760.01 305.66h9.1v9.1h-9.1zM761.79 305.8h9.1v9.1h-9.1zM763.57 304h9.1v9.1h-9.1zM765.35 304.53h9.1v9.1h-9.1zM767.13 303.17h9.1v9.1h-9.1zM768.91 302.86h9.1v9.1h-9.1zM770.69 302.8h9.1v9.1h-9.1zM772.47 300.38h9.1v9.1h-9.1zM774.25 300.24h9.1v9.1h-9.1zM776.03 302.37h9.1v9.1h-9.1zM777.8 299.47h9.1v9.1h-9.1zM779.58 298.98h9.1v9.1h-9.1zM781.36 297.73h9.1v9.1h-9.1zM783.14 298.74h9.1v9.1h-9.1zM784.92 299.55h9.1v9.1h-9.1zM786.7 298.1h9.1v9.1h-9.1zM788.48 299.53h9.1v9.1h-9.1zM790.26 297.68h9.1v9.1h-9.1zM792.04 298h9.1v9.1h-9.1zM793.82 297.64h9.1v9.1h-9.1zM795.6 296.47h9.1v9.1h-9.1zM797.38 298.37h9.1v9.1h-9.1zM799.15 297.08h9.1v9.1h-9.1zM800.93 296.91h9.1v9.1h-9.1zM802.71 297.21h9.1v9.1h-9.1zM804.49 297.28h9.1v9.1h-9.1zM806.27 293.87h9.1v9.1h-9.1zM808.05 295.13h9.1v9.1h-9.1zM809.83 295.12h9.1v9.1h-9.1zM811.61 295.02h9.1v9.1h-9.1zM813.39 294.24h9.1v9.1h-9.1zM815.17 295.39h9.1v9.1h-9.1zM816.95 296.06h9.1v9.1h-9.1zM818.73 294.19h9.1v9.1h-9.1zM820.5 295.32h9.1v9.1h-9.1zM822.28 294.07h9.1v9.1h-9.1zM824.06 294.25h9.1v9.1h-9.1zM825.84 294.6h9.1v9.1h-9.1zM827.62 295.03h9.1v9.1h-9.1zM829.4 293.99h9.1v9.1h-9.1zM831.18 295.87h9.1v9.1h-9.1zM832.96 292.29h9.1v9.1h-9.1zM834.74 292.3h9.1v9.1h-9.1zM836.52 294.2h9.1v9.1h-9.1zM838.3 292.21h9.1v9.1h-9.1zM840.08 292.14h9.1v9.1h-9.1zM841.85 293.28h9.1v9.1h-9.1zM843.63 293.42h9.1v9.1h-9.1zM845.41 291.63h9.1v9.1h-9.1zM847.19 294.8h9.1v9.1h-9.1zM848.97 294.15h9.1v9.1h-9.1zM850.75 292h9.1v9.1h-9.1zM852.53 291.76h9.1v9.1h-9.1zM854.31 294.25h9.1v9.1h-9.1zM856.09 293.24h9.1v9.1h-9.1zM857.87 293.04h9.1v9.1h-9.1zM859.65 292.01h9.1v9.1h-9.1zM861.43 292.2h9.1v9.1h-9.1zM863.2 293.53h9.1v9.1h-9.1zM864.98 292.2h9.1v9.1h-9.1zM866.76 292.19h9.1v9.1h-9.1zM868.54 294.75h9.1v9.1h-9.1zM870.32 294.12h9.1v9.1h-9.1zM872.1 294.96h9.1v9.1h-9.1zM873.88 291.09h9.1v9.1h-9.1zM875.66 292.99h9.1v9.1h-9.1zM877.44 292.22h9.1v9.1h-9.1zM879.22 290.36h9.1v9.1h-9.1zM881 293.91h9.1v9.1h-9.1zM882.78 293.26h9.1v9.1h-9.1zM884.55 294.08h9.1v9.1h-9.1zM886.33 292.23h9.1v9.1h-9.1zM888.11 293.71h9.1v9.1h-9.1zM889.89 295.03h9.1v9.1h-9.1zM891.67 294.4h9.1v9.1h-9.1zM893.45 294.54h9.1v9.1h-9.1zM895.23 291.82h9.1v9.1h-9.1zM897.01 294.28h9.1v9.1h-9.1zM898.79 292.92h9.1v9.1h-9.1zM900.57 292.96h9.1v9.1h-9.1zM902.35 292.16h9.1v9.1h-9.1zM904.12 293.78h9.1v9.1h-9.1zM905.9 294.73h9.1v9.1h-9.1zM907.68 293.7h9.1v9.1h-9.1zM909.46 293.07h9.1v9.1h-9.1zM911.24 292.66h9.1v9.1h-9.1zM913.02 293.62h9.1v9.1h-9.1zM914.8 294.37h9.1v9.1h-9.1zM916.58 292.78h9.1v9.1h-9.1zM918.36 292.87h9.1v9.1h-9.1zM920.14 294.03h9.1v9.1h-9.1zM921.92 293.81h9.1v9.1h-9.1zM923.7 293.91h9.1v9.1h-9.1zM925.48 292.74h9.1v9.1h-9.1zM927.25 293.07h9.1v9.1h-9.1zM929.03 292.8h9.1v9.1h-9.1zM930.81 291.93h9.1v9.1h-9.1zM932.59 291.13h9.1v9.1h-9.1zM934.37 293.12h9.1v9.1h-9.1zM936.15 294.34h9.1v9.1h-9.1zM937.93 294.58h9.1v9.1h-9.1zM939.71 291.53h9.1v9.1h-9.1zM941.49 292.62h9.1v9.1h-9.1zM943.27 294.95h9.1v9.1h-9.1zM945.05 294.3h9.1v9.1h-9.1zM946.83 293.37h9.1v9.1h-9.1zM948.6 292.49h9.1v9.1h-9.1zM950.38 292.36h9.1v9.1h-9.1zM952.16 292.35h9.1v9.1h-9.1zM953.94 293.68h9.1v9.1h-9.1zM955.72 293.78h9.1v9.1h-9.1zM957.5 294.54h9.1v9.1h-9.1zM959.28 293.2h9.1v9.1h-9.1zM961.06 293.06h9.1v9.1h-9.1zM962.84 293.84h9.1v9.1h-9.1zM964.62 294.19h9.1v9.1h-9.1zM966.4 292.83h9.1v9.1h-9.1zM968.18 293.29h9.1v9.1h-9.1zM969.95 293.43h9.1v9.1h-9.1zM971.73 293.86h9.1v9.1h-9.1zM973.51 293.66h9.1v9.1h-9.1zM975.29 293.75h9.1v9.1h-9.1zM977.07 294.1h9.1v9.1h-9.1zM978.85 293.65h9.1v9.1h-9.1zM980.63 292.94h9.1v9.1h-9.1zM982.41 294.89h9.1v9.1h-9.1zM984.19 293.09h9.1v9.1h-9.1zM985.97 292.82h9.1v9.1h-9.1zM987.75 294.82h9.1v9.1h-9.1zM989.53 294.29h9.1v9.1h-9.1zM991.3 293.92h9.1v9.1h-9.1zM993.08 294.67h9.1v9.1h-9.1zM994.86 294.92h9.1v9.1h-9.1zM996.64 293.49h9.1v9.1h-9.1zM998.42 294.48h9.1v9.1h-9.1zM1000.2 293.25h9.1v9.1h-9.1zM1001.98 294.09h9.1v9.1h-9.1zM1003.76 294.47h9.1v9.1h-9.1zM1005.54 295.57h9.1v9.1h-9.1zM1007.32 293.51h9.1v9.1h-9.1zM1009.1 292.93h9.1v9.1h-9.1zM1010.88 293.18h9.1v9.1h-9.1zM1012.65 293.07h9.1v9.1h-9.1zM1014.43 294.73h9.1v9.1h-9.1zM1016.21 292.22h9.1v9.1h-9.1zM1017.99 292.6h9.1v9.1h-9.1zM1019.77 295.65h9.1v9.1h-9.1zM1021.55 293.57h9.1v9.1h-9.1zM1023.33 294.1h9.1v9.1h-9.1zM1025.11 293.28h9.1v9.1h-9.1zM1026.89 294.89h9.1v9.1h-9.1zM1028.67 293.34h9.1v9.1h-9.1zM1030.45 295.71h9.1v9.1h-9.1zM1032.23 294.54h9.1v9.1h-9.1zM1034 294.28h9.1v9.1h-9.1zM1035.78 296.15h9.1v9.1h-9.1zM1037.56 296.69h9.1v9.1h-9.1zM1039.34 294.87h9.1v9.1h-9.1zM1041.12 295.51h9.1v9.1h-9.1zM1042.9 294.86h9.1v9.1h-9.1zM1044.68 295.58h9.1v9.1h-9.1zM1046.46 295.71h9.1v9.1h-9.1zM1048.24 294.26h9.1v9.1h-9.1zM1050.02 295.23h9.1v9.1h-9.1zM1051.8 293.76h9.1v9.1h-9.1zM1053.58 293.93h9.1v9.1h-9.1zM1055.35 295.94h9.1v9.1h-9.1zM1057.13 292.38h9.1v9.1h-9.1zM1058.91 295.51h9.1v9.1h-9.1zM1060.69 292.58h9.1v9.1h-9.1zM1062.47 291.34h9.1v9.1h-9.1zM1064.25 294.04h9.1v9.1h-9.1zM1066.03 294.41h9.1v9.1h-9.1zM1067.81 291.8h9.1v9.1h-9.1zM1069.59 292.3h9.1v9.1h-9.1zM1071.37 291.21h9.1v9.1h-9.1zM1073.15 295.36h9.1v9.1h-9.1zM1074.92 294.41h9.1v9.1h-9.1zM1076.7 295.64h9.1v9.1h-9.1zM1078.48 295.72h9.1v9.1h-9.1zM1080.26 296.12h9.1v9.1h-9.1zM1082.04 293.77h9.1v9.1h-9.1zM1083.82 294.42h9.1v9.1h-9.1zM1085.6 294.61h9.1v9.1h-9.1zM1087.38 294.79h9.1v9.1h-9.1zM1089.16 294.14h9.1v9.1h-9.1zM1090.94 293h9.1v9.1h-9.1zM1092.72 291.96h9.1v9.1h-9.1zM1094.5 294.44h9.1v9.1h-9.1zM1096.28 294.33h9.1v9.1h-9.1zM1098.05 293.54h9.1v9.1h-9.1zM1099.83 292.61h9.1v9.1h-9.1zM1101.61 292.81h9.1v9.1h-9.1zM1103.39 291.9h9.1v9.1h-9.1zM1105.17 292.58h9.1v9.1h-9.1z" fill="none" stroke="#ed1c24" stroke-width="1.75" stroke-linejoin="miter"/>
<path d="M686.28 416.08l6.5 11.25h-12.99zM688.06 396.27l6.5 11.25h-12.99zM689.84 380.3l6.5 11.25h-12.99zM691.62 367l6.5 11.25h-12.99zM693.4 354.63l6.5 11.25h-12.99zM695.17 345.86l6.5 11.25h-12.99zM696.95 331l6.5 11.25h-12.99zM698.73 327.54l6.5 11.25h-12.99zM700.51 318.71l6.5 11.25h-12.99zM702.29 312.85l6.5 11.25h-12.99zM704.07 306.26l6.5 11.25h-12.99zM705.85 300.36l6.5 11.25h-12.99zM707.63 294.59l6.5 11.25h-12.99zM709.41 289.61l6.5 11.25h-12.99zM711.19 285.44l6.5 11.25h-12.99zM712.97 277.53l6.5 11.25h-12.99zM714.75 276.7l6.5 11.25h-12.99zM716.52 270.99l6.5 11.25h-12.99zM718.3 263.17l6.5 11.25h-12.99zM720.08 258.88l6.5 11.25h-12.99zM721.86 256.66l6.5 11.25h-12.99zM723.64 256.74l6.5 11.25h-12.99zM725.42 249.03l6.5 11.25h-12.99zM727.2 244.81l6.5 11.25h-12.99zM728.98 244.74l6.5 11.25h-12.99zM730.76 242.79l6.5 11.25h-12.99zM732.54 239.94l6.5 11.25h-12.99zM734.32 235l6.5 11.25h-12.99zM736.1 235.9l6.5 11.25h-12.99zM737.88 233.71l6.5 11.25h-12.99zM739.65 226.1l6.5 11.25h-12.99zM741.43 228.02l6.5 11.25h-12.99zM743.21 226.84l6.5 11.25h-12.99zM744.99 226.93l6.5 11.25h-12.99zM746.77 226.12l6.5 11.25h-12.99zM748.55 223.84l6.5 11.25h-12.99zM750.33 223.72l6.5 11.25h-12.99zM752.11 216.14l6.5 11.25h-12.99zM753.89 212.41l6.5 11.25h-12.99zM755.67 208.03l6.5 11.25h-12.99zM757.45 208.22l6.5 11.25h-12.99zM759.23 214.88l6.5 11.25h-12.99zM761 215.75l6.5 11.25h-12.99zM762.78 205.29l6.5 11.25h-12.99zM764.56 209.74l6.5 11.25h-12.99zM766.34 202.44l6.5 11.25h-12.99zM768.12 205.77l6.5 11.25h-12.99zM769.9 204.53l6.5 11.25h-12.99zM771.68 203.95l6.5 11.25h-12.99zM773.46 204.87l6.5 11.25h-12.99zM775.24 199.6l6.5 11.25h-12.99zM777.02 203.44l6.5 11.25h-12.99zM778.8 193.41l6.5 11.25h-12.99zM780.58 196.39l6.5 11.25h-12.99zM782.35 194.91l6.5 11.25h-12.99zM784.13 192.31l6.5 11.25h-12.99zM785.91 194.3l6.5 11.25h-12.99zM787.69 192.28l6.5 11.25h-12.99zM789.47 194.55l6.5 11.25h-12.99zM791.25 196.65l6.5 11.25h-12.99zM793.03 201.93l6.5 11.25h-12.99zM794.81 193.65l6.5 11.25h-12.99zM796.59 193.5l6.5 11.25h-12.99zM798.37 190.51l6.5 11.25h-12.99zM800.15 190.25l6.5 11.25h-12.99zM801.92 193.87l6.5 11.25h-12.99zM803.7 197.91l6.5 11.25h-12.99zM805.48 196.91l6.5 11.25h-12.99zM807.26 188.28l6.5 11.25h-12.99zM809.04 187.77l6.5 11.25h-12.99zM810.82 191.34l6.5 11.25h-12.99zM812.6 196.08l6.5 11.25h-12.99zM814.38 194.32l6.5 11.25h-12.99zM816.16 194.68l6.5 11.25h-12.99zM817.94 185.53l6.5 11.25h-12.99zM819.72 190.78l6.5 11.25h-12.99zM821.5 190.78l6.5 11.25h-12.99zM823.27 184.67l6.5 11.25h-12.99zM825.05 192.99l6.5 11.25h-12.99zM826.83 189.55l6.5 11.25h-12.99zM828.61 189.66l6.5 11.25h-12.99zM830.39 191.91l6.5 11.25h-12.99zM832.17 195.12l6.5 11.25h-12.99zM833.95 189.09l6.5 11.25h-12.99zM835.73 193.92l6.5 11.25h-12.99zM837.51 189.58l6.5 11.25h-12.99zM839.29 188.26l6.5 11.25h-12.99zM841.07 192.1l6.5 11.25h-12.99zM842.85 180.8l6.5 11.25h-12.99zM844.62 184.93l6.5 11.25h-12.99zM846.4 181l6.5 11.25h-12.99zM848.18 182.6l6.5 11.25h-12.99zM849.96 189l6.5 11.25h-12.99zM851.74 192.03l6.5 11.25h-12.99zM853.52 180.94l6.5 11.25h-12.99zM855.3 187.01l6.5 11.25h-12.99zM857.08 184.33l6.5 11.25h-12.99zM858.86 181.98l6.5 11.25h-12.99zM860.64 189.08l6.5 11.25h-12.99zM862.42 186.23l6.5 11.25h-12.99zM864.2 188.22l6.5 11.25h-12.99zM865.98 188.97l6.5 11.25h-12.99zM867.75 192.94l6.5 11.25h-12.99zM869.53 188.7l6.5 11.25h-12.99zM871.31 188.59l6.5 11.25h-12.99zM873.09 184.43l6.5 11.25h-12.99zM874.87 186.44l6.5 11.25h-12.99zM876.65 185.47l6.5 11.25h-12.99zM878.43 187.94l6.5 11.25h-12.99zM880.21 189.53l6.5 11.25h-12.99zM881.99 184.87l6.5 11.25h-12.99zM883.77 187.12l6.5 11.25h-12.99zM885.55 183.01l6.5 11.25h-12.99zM887.33 186.64l6.5 11.25h-12.99zM889.1 189.6l6.5 11.25h-12.99zM890.88 184.46l6.5 11.25h-12.99zM892.66 192.29l6.5 11.25h-12.99zM894.44 185.34l6.5 11.25h-12.99zM896.22 187.8l6.5 11.25h-12.99zM898 192.02l6.5 11.25h-12.99zM899.78 185.19l6.5 11.25h-12.99zM901.56 186.91l6.5 11.25h-12.99zM903.34 192.79l6.5 11.25h-12.99zM905.12 188.62l6.5 11.25h-12.99zM906.9 187.9l6.5 11.25h-12.99zM908.67 185.5l6.5 11.25h-12.99zM910.45 191.59l6.5 11.25h-12.99zM912.23 187l6.5 11.25h-12.99zM914.01 183l6.5 11.25h-12.99zM915.79 193.73l6.5 11.25h-12.99zM917.57 184.48l6.5 11.25h-12.99zM919.35 190.35l6.5 11.25h-12.99zM921.13 187.79l6.5 11.25h-12.99zM922.91 188.19l6.5 11.25h-12.99zM924.69 187.26l6.5 11.25h-12.99zM926.47 186.7l6.5 11.25h-12.99zM928.25 183.07l6.5 11.25h-12.99zM930.02 180.42l6.5 11.25h-12.99zM931.8 183.03l6.5 11.25h-12.99zM933.58 181.66l6.5 11.25h-12.99zM935.36 188.12l6.5 11.25h-12.99zM937.14 181.45l6.5 11.25h-12.99zM938.92 181.97l6.5 11.25h-12.99zM940.7 191.39l6.5 11.25h-12.99zM942.48 185.11l6.5 11.25h-12.99zM944.26 185.15l6.5 11.25h-12.99zM946.04 189.96l6.5 11.25h-12.99zM947.82 186.15l6.5 11.25h-12.99zM949.6 186.46l6.5 11.25h-12.99zM951.38 186.68l6.5 11.25h-12.99zM953.15 192.81l6.5 11.25h-12.99zM954.93 182.31l6.5 11.25h-12.99zM956.71 189.19l6.5 11.25h-12.99zM958.49 184.04l6.5 11.25h-12.99zM960.27 192.54l6.5 11.25h-12.99zM962.05 185.62l6.5 11.25h-12.99zM963.83 192.66l6.5 11.25h-12.99zM965.61 185.99l6.5 11.25h-12.99zM967.39 184.67l6.5 11.25h-12.99zM969.17 188.41l6.5 11.25h-12.99zM970.95 184.76l6.5 11.25h-12.99zM972.73 185.8l6.5 11.25h-12.99zM974.5 191.4l6.5 11.25h-12.99zM976.28 192.49l6.5 11.25h-12.99zM978.06 194l6.5 11.25h-12.99zM979.84 187.93l6.5 11.25h-12.99zM981.62 181.21l6.5 11.25h-12.99zM983.4 187.83l6.5 11.25h-12.99zM985.18 183.86l6.5 11.25h-12.99zM986.96 185.6l6.5 11.25h-12.99zM988.74 184.58l6.5 11.25h-12.99zM990.52 184.4l6.5 11.25h-12.99zM992.3 192.2l6.5 11.25h-12.99zM994.08 183.55l6.5 11.25h-12.99zM995.85 189.09l6.5 11.25h-12.99zM997.63 181.98l6.5 11.25h-12.99zM999.41 194.21l6.5 11.25h-12.99zM1001.19 191.22l6.5 11.25h-12.99zM1002.97 191.2l6.5 11.25h-12.99zM1004.75 184.39l6.5 11.25h-12.99zM1006.53 191.75l6.5 11.25h-12.99zM1008.31 187.4l6.5 11.25h-12.99zM1010.09 188.62l6.5 11.25h-12.99zM1011.87 186.24l6.5 11.25h-12.99zM1013.65 189.51l6.5 11.25h-12.99zM1015.42 183.96l6.5 11.25h-12.99zM1017.2 187.04l6.5 11.25h-12.99zM1018.98 190.65l6.5 11.25h-12.99zM1020.76 185.07l6.5 11.25h-12.99zM1022.54 192.3l6.5 11.25h-12.99zM1024.32 186.58l6.5 11.25h-12.99zM1026.1 190.33l6.5 11.25h-12.99zM1027.88 181.33l6.5 11.25h-12.99zM1029.66 192.12l6.5 11.25h-12.99zM1031.44 189.7l6.5 11.25h-12.99zM1033.22 192.53l6.5 11.25h-12.99zM1035 189.64l6.5 11.25h-12.99zM1036.78 190.7l6.5 11.25h-12.99zM1038.55 188.22l6.5 11.25h-12.99zM1040.33 191.38l6.5 11.25h-12.99zM1042.11 188.74l6.5 11.25h-12.99zM1043.89 194.14l6.5 11.25h-12.99zM1045.67 191.43l6.5 11.25h-12.99zM1047.45 190.97l6.5 11.25h-12.99zM1049.23 194.02l6.5 11.25h-12.99zM1051.01 187.87l6.5 11.25h-12.99zM1052.79 182.62l6.5 11.25h-12.99zM1054.57 184.35l6.5 11.25h-12.99zM1056.35 184.86l6.5 11.25h-12.99zM1058.12 194.37l6.5 11.25h-12.99zM1059.9 187.7l6.5 11.25h-12.99zM1061.68 192.02l6.5 11.25h-12.99zM1063.46 184.61l6.5 11.25h-12.99zM1065.24 182.2l6.5 11.25h-12.99zM1067.02 185.83l6.5 11.25h-12.99zM1068.8 181.16l6.5 11.25h-12.99zM1070.58 187.45l6.5 11.25h-12.99zM1072.36 185.53l6.5 11.25h-12.99zM1074.14 187.92l6.5 11.25h-12.99zM1075.92 182.32l6.5 11.25h-12.99zM1077.7 187.86l6.5 11.25h-12.99zM1079.47 186.96l6.5 11.25h-12.99zM1081.25 189.36l6.5 11.25h-12.99zM1083.03 187.15l6.5 11.25h-12.99zM1084.81 194.13l6.5 11.25h-12.99zM1086.59 186.79l6.5 11.25h-12.99zM1088.37 191.53l6.5 11.25h-12.99zM1090.15 192.08l6.5 11.25h-12.99zM1091.93 194.79l6.5 11.25h-12.99zM1093.71 185.97l6.5 11.25h-12.99zM1095.49 182.39l6.5 11.25h-12.99zM1097.27 190.53l6.5 11.25h-12.99zM1099.05 192.67l6.5 11.25h-12.99zM1100.83 188.43l6.5 11.25h-12.99zM1102.6 192.16l6.5 11.25h-12.99zM1104.38 189.98l6.5 11.25h-12.99zM1106.16 188.58l6.5 11.25h-12.99zM1107.94 191.87l6.5 11.25h-12.99zM1109.72 180.77l6.5 11.25h-12.99z" fill="none" stroke="#0f6b2f" stroke-width="1.75" stroke-linejoin="miter"/>
<text x="688" y="69.1" font-size="41.3" fill="#000" stroke="#000" stroke-width="0" text-anchor="start" letter-spacing=".9">(b)</text>
<rect x="840.5" y="43.5" width="257.5" height="68.5" fill="#fff" stroke="#5a5a5a" stroke-width="1"/>
<path d="M870.6 56.7m-5.7 0a5.7 5.7 0 1 0 11.4 0a5.7 5.7 0 1 0 -11.4 0" fill="none" stroke="#1746a2" stroke-width="1.9"/>
<path d="M866.05 73.65h9.1v9.1h-9.1z" fill="none" stroke="#ed1c24" stroke-width="1.75" stroke-linejoin="miter"/>
<path d="M870.6 92.7l6.5 11.25h-12.99z" fill="none" stroke="#0f6b2f" stroke-width="1.75" stroke-linejoin="miter"/>
<text x="899.3" y="62.7" font-size="16.8" fill="#111" stroke="#111" stroke-width="0.12" text-anchor="start" >U displacement of a point</text>
<text x="899.3" y="84.1" font-size="16.8" fill="#111" stroke="#111" stroke-width="0.12" text-anchor="start" >V displacement of a point</text>
<text x="899.3" y="105.5" font-size="16.8" fill="#111" stroke="#111" stroke-width="0.12" text-anchor="start" >W displacement of a point</text>
<path d="M949.3 353.4L953.7 349.3H1040.6L1035.7 353.4z" fill="#b9a96a" stroke="#8a7a42" stroke-width=".8"/>
<path d="M1035.7 353.4L1040.6 349.3V418.5L1035.7 422.6z" fill="#a09052" stroke="#8a7a42" stroke-width=".8"/>
<rect x="949.3" y="353.4" width="86.4" height="69.2" fill="#aa9858" stroke="#8a7a42" stroke-width=".8"/>
<circle cx="1035.7" cy="418" r="5.1" fill="#000"/>
<text x="1026.4" y="445.7" font-size="22.6" fill="#000" stroke="#000" stroke-width="0" text-anchor="start" font-style="italic">P</text>
<line x1="1203.5" y1="457.5" x2="1630.5" y2="457.5" stroke="#5a5a5a" stroke-width="1.0" />
<line x1="1203.5" y1="30.5" x2="1630.5" y2="30.5" stroke="#5a5a5a" stroke-width="1.0" />
<line x1="1203.5" y1="457.5" x2="1203.5" y2="453.2" stroke="#5a5a5a" stroke-width="1.0" />
<line x1="1203.5" y1="30.5" x2="1203.5" y2="34.8" stroke="#5a5a5a" stroke-width="1.0" />
<text x="1203.5" y="485.6" font-size="20.0" fill="#303030" stroke="#303030" stroke-width="0.12" text-anchor="middle" >0</text>
<line x1="1274.67" y1="457.5" x2="1274.67" y2="453.2" stroke="#5a5a5a" stroke-width="1.0" />
<line x1="1274.67" y1="30.5" x2="1274.67" y2="34.8" stroke="#5a5a5a" stroke-width="1.0" />
<text x="1274.67" y="485.6" font-size="20.0" fill="#303030" stroke="#303030" stroke-width="0.12" text-anchor="middle" >20</text>
<line x1="1345.83" y1="457.5" x2="1345.83" y2="453.2" stroke="#5a5a5a" stroke-width="1.0" />
<line x1="1345.83" y1="30.5" x2="1345.83" y2="34.8" stroke="#5a5a5a" stroke-width="1.0" />
<text x="1345.83" y="485.6" font-size="20.0" fill="#303030" stroke="#303030" stroke-width="0.12" text-anchor="middle" >40</text>
<line x1="1417" y1="457.5" x2="1417" y2="453.2" stroke="#5a5a5a" stroke-width="1.0" />
<line x1="1417" y1="30.5" x2="1417" y2="34.8" stroke="#5a5a5a" stroke-width="1.0" />
<text x="1417" y="485.6" font-size="20.0" fill="#303030" stroke="#303030" stroke-width="0.12" text-anchor="middle" >60</text>
<line x1="1488.17" y1="457.5" x2="1488.17" y2="453.2" stroke="#5a5a5a" stroke-width="1.0" />
<line x1="1488.17" y1="30.5" x2="1488.17" y2="34.8" stroke="#5a5a5a" stroke-width="1.0" />
<text x="1488.17" y="485.6" font-size="20.0" fill="#303030" stroke="#303030" stroke-width="0.12" text-anchor="middle" >80</text>
<line x1="1559.33" y1="457.5" x2="1559.33" y2="453.2" stroke="#5a5a5a" stroke-width="1.0" />
<line x1="1559.33" y1="30.5" x2="1559.33" y2="34.8" stroke="#5a5a5a" stroke-width="1.0" />
<text x="1559.33" y="485.6" font-size="20.0" fill="#303030" stroke="#303030" stroke-width="0.12" text-anchor="middle" >100</text>
<line x1="1630.5" y1="457.5" x2="1630.5" y2="453.2" stroke="#5a5a5a" stroke-width="1.0" />
<line x1="1630.5" y1="30.5" x2="1630.5" y2="34.8" stroke="#5a5a5a" stroke-width="1.0" />
<text x="1630.5" y="485.6" font-size="20.0" fill="#303030" stroke="#303030" stroke-width="0.12" text-anchor="middle" >120</text>
<text x="1416.2" y="514.2" font-size="22.6" fill="#303030" stroke="#303030" stroke-width="0.12" text-anchor="middle" letter-spacing=".27">Time (min)</text>
<line x1="1203.5" y1="30" x2="1203.5" y2="458" stroke="#5a5a5a" stroke-width="1.0" />
<line x1="1203.5" y1="457.5" x2="1207.8" y2="457.5" stroke="#5a5a5a" stroke-width="1.0" />
<text x="1195.5" y="464.8" font-size="20.0" fill="#303030" stroke="#303030" stroke-width="0.12" text-anchor="end" >-50</text>
<line x1="1203.5" y1="410.06" x2="1207.8" y2="410.06" stroke="#5a5a5a" stroke-width="1.0" />
<text x="1195.5" y="417.36" font-size="20.0" fill="#303030" stroke="#303030" stroke-width="0.12" text-anchor="end" >0</text>
<line x1="1203.5" y1="362.61" x2="1207.8" y2="362.61" stroke="#5a5a5a" stroke-width="1.0" />
<text x="1195.5" y="369.91" font-size="20.0" fill="#303030" stroke="#303030" stroke-width="0.12" text-anchor="end" >50</text>
<line x1="1203.5" y1="315.17" x2="1207.8" y2="315.17" stroke="#5a5a5a" stroke-width="1.0" />
<text x="1195.5" y="322.47" font-size="20.0" fill="#303030" stroke="#303030" stroke-width="0.12" text-anchor="end" >100</text>
<line x1="1203.5" y1="267.72" x2="1207.8" y2="267.72" stroke="#5a5a5a" stroke-width="1.0" />
<text x="1195.5" y="275.02" font-size="20.0" fill="#303030" stroke="#303030" stroke-width="0.12" text-anchor="end" >150</text>
<line x1="1203.5" y1="220.28" x2="1207.8" y2="220.28" stroke="#5a5a5a" stroke-width="1.0" />
<text x="1195.5" y="227.58" font-size="20.0" fill="#303030" stroke="#303030" stroke-width="0.12" text-anchor="end" >200</text>
<line x1="1203.5" y1="172.83" x2="1207.8" y2="172.83" stroke="#5a5a5a" stroke-width="1.0" />
<text x="1195.5" y="180.13" font-size="20.0" fill="#303030" stroke="#303030" stroke-width="0.12" text-anchor="end" >250</text>
<line x1="1203.5" y1="125.39" x2="1207.8" y2="125.39" stroke="#5a5a5a" stroke-width="1.0" />
<text x="1195.5" y="132.69" font-size="20.0" fill="#303030" stroke="#303030" stroke-width="0.12" text-anchor="end" >300</text>
<line x1="1203.5" y1="77.94" x2="1207.8" y2="77.94" stroke="#5a5a5a" stroke-width="1.0" />
<text x="1195.5" y="85.24" font-size="20.0" fill="#303030" stroke="#303030" stroke-width="0.12" text-anchor="end" >350</text>
<line x1="1203.5" y1="30.5" x2="1207.8" y2="30.5" stroke="#5a5a5a" stroke-width="1.0" />
<text x="1195.5" y="37.8" font-size="20.0" fill="#303030" stroke="#303030" stroke-width="0.12" text-anchor="end" >400</text>
<line x1="1630.5" y1="30" x2="1630.5" y2="458" stroke="#5a5a5a" stroke-width="1.0" />
<line x1="1630.5" y1="457.5" x2="1626.2" y2="457.5" stroke="#5a5a5a" stroke-width="1.0" />
<line x1="1630.5" y1="410.06" x2="1626.2" y2="410.06" stroke="#5a5a5a" stroke-width="1.0" />
<line x1="1630.5" y1="362.61" x2="1626.2" y2="362.61" stroke="#5a5a5a" stroke-width="1.0" />
<line x1="1630.5" y1="315.17" x2="1626.2" y2="315.17" stroke="#5a5a5a" stroke-width="1.0" />
<line x1="1630.5" y1="267.72" x2="1626.2" y2="267.72" stroke="#5a5a5a" stroke-width="1.0" />
<line x1="1630.5" y1="220.28" x2="1626.2" y2="220.28" stroke="#5a5a5a" stroke-width="1.0" />
<line x1="1630.5" y1="172.83" x2="1626.2" y2="172.83" stroke="#5a5a5a" stroke-width="1.0" />
<line x1="1630.5" y1="125.39" x2="1626.2" y2="125.39" stroke="#5a5a5a" stroke-width="1.0" />
<line x1="1630.5" y1="77.94" x2="1626.2" y2="77.94" stroke="#5a5a5a" stroke-width="1.0" />
<line x1="1630.5" y1="30.5" x2="1626.2" y2="30.5" stroke="#5a5a5a" stroke-width="1.0" />
<text transform="translate(1151.3 244) rotate(-90)" font-size="22.6" fill="#303030" stroke="#303030" stroke-width="0.12" letter-spacing="0.45" text-anchor="middle">Simulated strain errors (µε)</text>
<path d="M1203.5 410.06m-5.7 0a5.7 5.7 0 1 0 11.4 0a5.7 5.7 0 1 0 -11.4 0M1205.28 374.46m-5.7 0a5.7 5.7 0 1 0 11.4 0a5.7 5.7 0 1 0 -11.4 0M1207.06 354.98m-5.7 0a5.7 5.7 0 1 0 11.4 0a5.7 5.7 0 1 0 -11.4 0M1208.84 342.68m-5.7 0a5.7 5.7 0 1 0 11.4 0a5.7 5.7 0 1 0 -11.4 0M1210.62 327.94m-5.7 0a5.7 5.7 0 1 0 11.4 0a5.7 5.7 0 1 0 -11.4 0M1212.4 315.12m-5.7 0a5.7 5.7 0 1 0 11.4 0a5.7 5.7 0 1 0 -11.4 0M1214.17 305.14m-5.7 0a5.7 5.7 0 1 0 11.4 0a5.7 5.7 0 1 0 -11.4 0M1215.95 293.78m-5.7 0a5.7 5.7 0 1 0 11.4 0a5.7 5.7 0 1 0 -11.4 0M1217.73 286.37m-5.7 0a5.7 5.7 0 1 0 11.4 0a5.7 5.7 0 1 0 -11.4 0M1219.51 280.29m-5.7 0a5.7 5.7 0 1 0 11.4 0a5.7 5.7 0 1 0 -11.4 0M1221.29 274.18m-5.7 0a5.7 5.7 0 1 0 11.4 0a5.7 5.7 0 1 0 -11.4 0M1223.07 268.37m-5.7 0a5.7 5.7 0 1 0 11.4 0a5.7 5.7 0 1 0 -11.4 0M1224.85 262.62m-5.7 0a5.7 5.7 0 1 0 11.4 0a5.7 5.7 0 1 0 -11.4 0M1226.63 256.66m-5.7 0a5.7 5.7 0 1 0 11.4 0a5.7 5.7 0 1 0 -11.4 0M1228.41 251.01m-5.7 0a5.7 5.7 0 1 0 11.4 0a5.7 5.7 0 1 0 -11.4 0M1230.19 246.15m-5.7 0a5.7 5.7 0 1 0 11.4 0a5.7 5.7 0 1 0 -11.4 0M1231.97 240.49m-5.7 0a5.7 5.7 0 1 0 11.4 0a5.7 5.7 0 1 0 -11.4 0M1233.75 235.65m-5.7 0a5.7 5.7 0 1 0 11.4 0a5.7 5.7 0 1 0 -11.4 0M1235.53 230.92m-5.7 0a5.7 5.7 0 1 0 11.4 0a5.7 5.7 0 1 0 -11.4 0M1237.3 226.11m-5.7 0a5.7 5.7 0 1 0 11.4 0a5.7 5.7 0 1 0 -11.4 0M1239.08 222.67m-5.7 0a5.7 5.7 0 1 0 11.4 0a5.7 5.7 0 1 0 -11.4 0M1240.86 219.07m-5.7 0a5.7 5.7 0 1 0 11.4 0a5.7 5.7 0 1 0 -11.4 0M1242.64 215.09m-5.7 0a5.7 5.7 0 1 0 11.4 0a5.7 5.7 0 1 0 -11.4 0M1244.42 212.53m-5.7 0a5.7 5.7 0 1 0 11.4 0a5.7 5.7 0 1 0 -11.4 0M1246.2 209.33m-5.7 0a5.7 5.7 0 1 0 11.4 0a5.7 5.7 0 1 0 -11.4 0M1247.98 206.03m-5.7 0a5.7 5.7 0 1 0 11.4 0a5.7 5.7 0 1 0 -11.4 0M1249.76 203.55m-5.7 0a5.7 5.7 0 1 0 11.4 0a5.7 5.7 0 1 0 -11.4 0M1251.54 200.31m-5.7 0a5.7 5.7 0 1 0 11.4 0a5.7 5.7 0 1 0 -11.4 0M1253.32 197.6m-5.7 0a5.7 5.7 0 1 0 11.4 0a5.7 5.7 0 1 0 -11.4 0M1255.1 194.67m-5.7 0a5.7 5.7 0 1 0 11.4 0a5.7 5.7 0 1 0 -11.4 0M1256.88 192.32m-5.7 0a5.7 5.7 0 1 0 11.4 0a5.7 5.7 0 1 0 -11.4 0M1258.65 191.42m-5.7 0a5.7 5.7 0 1 0 11.4 0a5.7 5.7 0 1 0 -11.4 0M1260.43 189.69m-5.7 0a5.7 5.7 0 1 0 11.4 0a5.7 5.7 0 1 0 -11.4 0M1262.21 188.29m-5.7 0a5.7 5.7 0 1 0 11.4 0a5.7 5.7 0 1 0 -11.4 0M1263.99 186.88m-5.7 0a5.7 5.7 0 1 0 11.4 0a5.7 5.7 0 1 0 -11.4 0M1265.77 183.38m-5.7 0a5.7 5.7 0 1 0 11.4 0a5.7 5.7 0 1 0 -11.4 0M1267.55 181.58m-5.7 0a5.7 5.7 0 1 0 11.4 0a5.7 5.7 0 1 0 -11.4 0M1269.33 181.82m-5.7 0a5.7 5.7 0 1 0 11.4 0a5.7 5.7 0 1 0 -11.4 0M1271.11 179.32m-5.7 0a5.7 5.7 0 1 0 11.4 0a5.7 5.7 0 1 0 -11.4 0M1272.89 176.65m-5.7 0a5.7 5.7 0 1 0 11.4 0a5.7 5.7 0 1 0 -11.4 0M1274.67 173.9m-5.7 0a5.7 5.7 0 1 0 11.4 0a5.7 5.7 0 1 0 -11.4 0M1276.45 174.34m-5.7 0a5.7 5.7 0 1 0 11.4 0a5.7 5.7 0 1 0 -11.4 0M1278.22 173.25m-5.7 0a5.7 5.7 0 1 0 11.4 0a5.7 5.7 0 1 0 -11.4 0M1280 172.67m-5.7 0a5.7 5.7 0 1 0 11.4 0a5.7 5.7 0 1 0 -11.4 0M1281.78 168.49m-5.7 0a5.7 5.7 0 1 0 11.4 0a5.7 5.7 0 1 0 -11.4 0M1283.56 169.21m-5.7 0a5.7 5.7 0 1 0 11.4 0a5.7 5.7 0 1 0 -11.4 0M1285.34 168.52m-5.7 0a5.7 5.7 0 1 0 11.4 0a5.7 5.7 0 1 0 -11.4 0M1287.12 167.73m-5.7 0a5.7 5.7 0 1 0 11.4 0a5.7 5.7 0 1 0 -11.4 0M1288.9 165.83m-5.7 0a5.7 5.7 0 1 0 11.4 0a5.7 5.7 0 1 0 -11.4 0M1290.68 164.68m-5.7 0a5.7 5.7 0 1 0 11.4 0a5.7 5.7 0 1 0 -11.4 0M1292.46 164.22m-5.7 0a5.7 5.7 0 1 0 11.4 0a5.7 5.7 0 1 0 -11.4 0M1294.24 161.36m-5.7 0a5.7 5.7 0 1 0 11.4 0a5.7 5.7 0 1 0 -11.4 0M1296.02 162.2m-5.7 0a5.7 5.7 0 1 0 11.4 0a5.7 5.7 0 1 0 -11.4 0M1297.8 160.32m-5.7 0a5.7 5.7 0 1 0 11.4 0a5.7 5.7 0 1 0 -11.4 0M1299.58 161.58m-5.7 0a5.7 5.7 0 1 0 11.4 0a5.7 5.7 0 1 0 -11.4 0M1301.35 160.74m-5.7 0a5.7 5.7 0 1 0 11.4 0a5.7 5.7 0 1 0 -11.4 0M1303.13 159.05m-5.7 0a5.7 5.7 0 1 0 11.4 0a5.7 5.7 0 1 0 -11.4 0M1304.91 158.2m-5.7 0a5.7 5.7 0 1 0 11.4 0a5.7 5.7 0 1 0 -11.4 0M1306.69 158.67m-5.7 0a5.7 5.7 0 1 0 11.4 0a5.7 5.7 0 1 0 -11.4 0M1308.47 159.22m-5.7 0a5.7 5.7 0 1 0 11.4 0a5.7 5.7 0 1 0 -11.4 0M1310.25 157.93m-5.7 0a5.7 5.7 0 1 0 11.4 0a5.7 5.7 0 1 0 -11.4 0M1312.03 157.79m-5.7 0a5.7 5.7 0 1 0 11.4 0a5.7 5.7 0 1 0 -11.4 0M1313.81 154.95m-5.7 0a5.7 5.7 0 1 0 11.4 0a5.7 5.7 0 1 0 -11.4 0M1315.59 155.88m-5.7 0a5.7 5.7 0 1 0 11.4 0a5.7 5.7 0 1 0 -11.4 0M1317.37 155.34m-5.7 0a5.7 5.7 0 1 0 11.4 0a5.7 5.7 0 1 0 -11.4 0M1319.15 156.29m-5.7 0a5.7 5.7 0 1 0 11.4 0a5.7 5.7 0 1 0 -11.4 0M1320.92 157.38m-5.7 0a5.7 5.7 0 1 0 11.4 0a5.7 5.7 0 1 0 -11.4 0M1322.7 154.56m-5.7 0a5.7 5.7 0 1 0 11.4 0a5.7 5.7 0 1 0 -11.4 0M1324.48 154.32m-5.7 0a5.7 5.7 0 1 0 11.4 0a5.7 5.7 0 1 0 -11.4 0M1326.26 154.23m-5.7 0a5.7 5.7 0 1 0 11.4 0a5.7 5.7 0 1 0 -11.4 0M1328.04 154.37m-5.7 0a5.7 5.7 0 1 0 11.4 0a5.7 5.7 0 1 0 -11.4 0M1329.82 152.1m-5.7 0a5.7 5.7 0 1 0 11.4 0a5.7 5.7 0 1 0 -11.4 0M1331.6 152.85m-5.7 0a5.7 5.7 0 1 0 11.4 0a5.7 5.7 0 1 0 -11.4 0M1333.38 151.03m-5.7 0a5.7 5.7 0 1 0 11.4 0a5.7 5.7 0 1 0 -11.4 0M1335.16 152.31m-5.7 0a5.7 5.7 0 1 0 11.4 0a5.7 5.7 0 1 0 -11.4 0M1336.94 151.87m-5.7 0a5.7 5.7 0 1 0 11.4 0a5.7 5.7 0 1 0 -11.4 0M1338.72 152.27m-5.7 0a5.7 5.7 0 1 0 11.4 0a5.7 5.7 0 1 0 -11.4 0M1340.5 152.58m-5.7 0a5.7 5.7 0 1 0 11.4 0a5.7 5.7 0 1 0 -11.4 0M1342.28 150.39m-5.7 0a5.7 5.7 0 1 0 11.4 0a5.7 5.7 0 1 0 -11.4 0M1344.05 152.02m-5.7 0a5.7 5.7 0 1 0 11.4 0a5.7 5.7 0 1 0 -11.4 0M1345.83 151.52m-5.7 0a5.7 5.7 0 1 0 11.4 0a5.7 5.7 0 1 0 -11.4 0M1347.61 152.07m-5.7 0a5.7 5.7 0 1 0 11.4 0a5.7 5.7 0 1 0 -11.4 0M1349.39 153.32m-5.7 0a5.7 5.7 0 1 0 11.4 0a5.7 5.7 0 1 0 -11.4 0M1351.17 152.36m-5.7 0a5.7 5.7 0 1 0 11.4 0a5.7 5.7 0 1 0 -11.4 0M1352.95 150.43m-5.7 0a5.7 5.7 0 1 0 11.4 0a5.7 5.7 0 1 0 -11.4 0M1354.73 150.58m-5.7 0a5.7 5.7 0 1 0 11.4 0a5.7 5.7 0 1 0 -11.4 0M1356.51 149.16m-5.7 0a5.7 5.7 0 1 0 11.4 0a5.7 5.7 0 1 0 -11.4 0M1358.29 148.85m-5.7 0a5.7 5.7 0 1 0 11.4 0a5.7 5.7 0 1 0 -11.4 0M1360.07 150.41m-5.7 0a5.7 5.7 0 1 0 11.4 0a5.7 5.7 0 1 0 -11.4 0M1361.85 148.26m-5.7 0a5.7 5.7 0 1 0 11.4 0a5.7 5.7 0 1 0 -11.4 0M1363.62 148.87m-5.7 0a5.7 5.7 0 1 0 11.4 0a5.7 5.7 0 1 0 -11.4 0M1365.4 147.96m-5.7 0a5.7 5.7 0 1 0 11.4 0a5.7 5.7 0 1 0 -11.4 0M1367.18 149.02m-5.7 0a5.7 5.7 0 1 0 11.4 0a5.7 5.7 0 1 0 -11.4 0M1368.96 148.25m-5.7 0a5.7 5.7 0 1 0 11.4 0a5.7 5.7 0 1 0 -11.4 0M1370.74 149.48m-5.7 0a5.7 5.7 0 1 0 11.4 0a5.7 5.7 0 1 0 -11.4 0M1372.52 148.35m-5.7 0a5.7 5.7 0 1 0 11.4 0a5.7 5.7 0 1 0 -11.4 0M1374.3 148.65m-5.7 0a5.7 5.7 0 1 0 11.4 0a5.7 5.7 0 1 0 -11.4 0M1376.08 148.42m-5.7 0a5.7 5.7 0 1 0 11.4 0a5.7 5.7 0 1 0 -11.4 0M1377.86 146.59m-5.7 0a5.7 5.7 0 1 0 11.4 0a5.7 5.7 0 1 0 -11.4 0M1379.64 149.31m-5.7 0a5.7 5.7 0 1 0 11.4 0a5.7 5.7 0 1 0 -11.4 0M1381.42 149.23m-5.7 0a5.7 5.7 0 1 0 11.4 0a5.7 5.7 0 1 0 -11.4 0M1383.2 147.36m-5.7 0a5.7 5.7 0 1 0 11.4 0a5.7 5.7 0 1 0 -11.4 0M1384.97 147.05m-5.7 0a5.7 5.7 0 1 0 11.4 0a5.7 5.7 0 1 0 -11.4 0M1386.75 149.72m-5.7 0a5.7 5.7 0 1 0 11.4 0a5.7 5.7 0 1 0 -11.4 0M1388.53 148.11m-5.7 0a5.7 5.7 0 1 0 11.4 0a5.7 5.7 0 1 0 -11.4 0M1390.31 148.06m-5.7 0a5.7 5.7 0 1 0 11.4 0a5.7 5.7 0 1 0 -11.4 0M1392.09 149.4m-5.7 0a5.7 5.7 0 1 0 11.4 0a5.7 5.7 0 1 0 -11.4 0M1393.87 148.71m-5.7 0a5.7 5.7 0 1 0 11.4 0a5.7 5.7 0 1 0 -11.4 0M1395.65 150.42m-5.7 0a5.7 5.7 0 1 0 11.4 0a5.7 5.7 0 1 0 -11.4 0M1397.43 146.91m-5.7 0a5.7 5.7 0 1 0 11.4 0a5.7 5.7 0 1 0 -11.4 0M1399.21 147.64m-5.7 0a5.7 5.7 0 1 0 11.4 0a5.7 5.7 0 1 0 -11.4 0M1400.99 147.79m-5.7 0a5.7 5.7 0 1 0 11.4 0a5.7 5.7 0 1 0 -11.4 0M1402.77 146.11m-5.7 0a5.7 5.7 0 1 0 11.4 0a5.7 5.7 0 1 0 -11.4 0M1404.55 147.35m-5.7 0a5.7 5.7 0 1 0 11.4 0a5.7 5.7 0 1 0 -11.4 0M1406.33 146.56m-5.7 0a5.7 5.7 0 1 0 11.4 0a5.7 5.7 0 1 0 -11.4 0M1408.1 148.95m-5.7 0a5.7 5.7 0 1 0 11.4 0a5.7 5.7 0 1 0 -11.4 0M1409.88 149.41m-5.7 0a5.7 5.7 0 1 0 11.4 0a5.7 5.7 0 1 0 -11.4 0M1411.66 150.24m-5.7 0a5.7 5.7 0 1 0 11.4 0a5.7 5.7 0 1 0 -11.4 0M1413.44 149.1m-5.7 0a5.7 5.7 0 1 0 11.4 0a5.7 5.7 0 1 0 -11.4 0M1415.22 148.54m-5.7 0a5.7 5.7 0 1 0 11.4 0a5.7 5.7 0 1 0 -11.4 0M1417 148.34m-5.7 0a5.7 5.7 0 1 0 11.4 0a5.7 5.7 0 1 0 -11.4 0M1418.78 147.78m-5.7 0a5.7 5.7 0 1 0 11.4 0a5.7 5.7 0 1 0 -11.4 0M1420.56 150.03m-5.7 0a5.7 5.7 0 1 0 11.4 0a5.7 5.7 0 1 0 -11.4 0M1422.34 150.61m-5.7 0a5.7 5.7 0 1 0 11.4 0a5.7 5.7 0 1 0 -11.4 0M1424.12 150.17m-5.7 0a5.7 5.7 0 1 0 11.4 0a5.7 5.7 0 1 0 -11.4 0M1425.9 149.39m-5.7 0a5.7 5.7 0 1 0 11.4 0a5.7 5.7 0 1 0 -11.4 0M1427.67 149.53m-5.7 0a5.7 5.7 0 1 0 11.4 0a5.7 5.7 0 1 0 -11.4 0M1429.45 150.55m-5.7 0a5.7 5.7 0 1 0 11.4 0a5.7 5.7 0 1 0 -11.4 0M1431.23 148.54m-5.7 0a5.7 5.7 0 1 0 11.4 0a5.7 5.7 0 1 0 -11.4 0M1433.01 149.49m-5.7 0a5.7 5.7 0 1 0 11.4 0a5.7 5.7 0 1 0 -11.4 0M1434.79 150.26m-5.7 0a5.7 5.7 0 1 0 11.4 0a5.7 5.7 0 1 0 -11.4 0M1436.57 149.44m-5.7 0a5.7 5.7 0 1 0 11.4 0a5.7 5.7 0 1 0 -11.4 0M1438.35 150.48m-5.7 0a5.7 5.7 0 1 0 11.4 0a5.7 5.7 0 1 0 -11.4 0M1440.13 149.25m-5.7 0a5.7 5.7 0 1 0 11.4 0a5.7 5.7 0 1 0 -11.4 0M1441.91 146.99m-5.7 0a5.7 5.7 0 1 0 11.4 0a5.7 5.7 0 1 0 -11.4 0M1443.69 148.32m-5.7 0a5.7 5.7 0 1 0 11.4 0a5.7 5.7 0 1 0 -11.4 0M1445.47 148.51m-5.7 0a5.7 5.7 0 1 0 11.4 0a5.7 5.7 0 1 0 -11.4 0M1447.25 150.38m-5.7 0a5.7 5.7 0 1 0 11.4 0a5.7 5.7 0 1 0 -11.4 0M1449.03 146.28m-5.7 0a5.7 5.7 0 1 0 11.4 0a5.7 5.7 0 1 0 -11.4 0M1450.8 149.39m-5.7 0a5.7 5.7 0 1 0 11.4 0a5.7 5.7 0 1 0 -11.4 0M1452.58 148.89m-5.7 0a5.7 5.7 0 1 0 11.4 0a5.7 5.7 0 1 0 -11.4 0M1454.36 148.6m-5.7 0a5.7 5.7 0 1 0 11.4 0a5.7 5.7 0 1 0 -11.4 0M1456.14 146.37m-5.7 0a5.7 5.7 0 1 0 11.4 0a5.7 5.7 0 1 0 -11.4 0M1457.92 148.29m-5.7 0a5.7 5.7 0 1 0 11.4 0a5.7 5.7 0 1 0 -11.4 0M1459.7 149.25m-5.7 0a5.7 5.7 0 1 0 11.4 0a5.7 5.7 0 1 0 -11.4 0M1461.48 149.34m-5.7 0a5.7 5.7 0 1 0 11.4 0a5.7 5.7 0 1 0 -11.4 0M1463.26 148.36m-5.7 0a5.7 5.7 0 1 0 11.4 0a5.7 5.7 0 1 0 -11.4 0M1465.04 147.79m-5.7 0a5.7 5.7 0 1 0 11.4 0a5.7 5.7 0 1 0 -11.4 0M1466.82 149.77m-5.7 0a5.7 5.7 0 1 0 11.4 0a5.7 5.7 0 1 0 -11.4 0M1468.6 150.19m-5.7 0a5.7 5.7 0 1 0 11.4 0a5.7 5.7 0 1 0 -11.4 0M1470.38 150.48m-5.7 0a5.7 5.7 0 1 0 11.4 0a5.7 5.7 0 1 0 -11.4 0M1472.15 148.83m-5.7 0a5.7 5.7 0 1 0 11.4 0a5.7 5.7 0 1 0 -11.4 0M1473.93 149.01m-5.7 0a5.7 5.7 0 1 0 11.4 0a5.7 5.7 0 1 0 -11.4 0M1475.71 149.08m-5.7 0a5.7 5.7 0 1 0 11.4 0a5.7 5.7 0 1 0 -11.4 0M1477.49 149.57m-5.7 0a5.7 5.7 0 1 0 11.4 0a5.7 5.7 0 1 0 -11.4 0M1479.27 150.99m-5.7 0a5.7 5.7 0 1 0 11.4 0a5.7 5.7 0 1 0 -11.4 0M1481.05 148.68m-5.7 0a5.7 5.7 0 1 0 11.4 0a5.7 5.7 0 1 0 -11.4 0M1482.83 149.54m-5.7 0a5.7 5.7 0 1 0 11.4 0a5.7 5.7 0 1 0 -11.4 0M1484.61 148.99m-5.7 0a5.7 5.7 0 1 0 11.4 0a5.7 5.7 0 1 0 -11.4 0M1486.39 148.4m-5.7 0a5.7 5.7 0 1 0 11.4 0a5.7 5.7 0 1 0 -11.4 0M1488.17 149.55m-5.7 0a5.7 5.7 0 1 0 11.4 0a5.7 5.7 0 1 0 -11.4 0M1489.95 148.99m-5.7 0a5.7 5.7 0 1 0 11.4 0a5.7 5.7 0 1 0 -11.4 0M1491.72 147.45m-5.7 0a5.7 5.7 0 1 0 11.4 0a5.7 5.7 0 1 0 -11.4 0M1493.5 148.14m-5.7 0a5.7 5.7 0 1 0 11.4 0a5.7 5.7 0 1 0 -11.4 0M1495.28 148.04m-5.7 0a5.7 5.7 0 1 0 11.4 0a5.7 5.7 0 1 0 -11.4 0M1497.06 150.6m-5.7 0a5.7 5.7 0 1 0 11.4 0a5.7 5.7 0 1 0 -11.4 0M1498.84 147.75m-5.7 0a5.7 5.7 0 1 0 11.4 0a5.7 5.7 0 1 0 -11.4 0M1500.62 147.65m-5.7 0a5.7 5.7 0 1 0 11.4 0a5.7 5.7 0 1 0 -11.4 0M1502.4 147.73m-5.7 0a5.7 5.7 0 1 0 11.4 0a5.7 5.7 0 1 0 -11.4 0M1504.18 149.46m-5.7 0a5.7 5.7 0 1 0 11.4 0a5.7 5.7 0 1 0 -11.4 0M1505.96 148.7m-5.7 0a5.7 5.7 0 1 0 11.4 0a5.7 5.7 0 1 0 -11.4 0M1507.74 148.28m-5.7 0a5.7 5.7 0 1 0 11.4 0a5.7 5.7 0 1 0 -11.4 0M1509.52 149.07m-5.7 0a5.7 5.7 0 1 0 11.4 0a5.7 5.7 0 1 0 -11.4 0M1511.3 150.64m-5.7 0a5.7 5.7 0 1 0 11.4 0a5.7 5.7 0 1 0 -11.4 0M1513.08 149.7m-5.7 0a5.7 5.7 0 1 0 11.4 0a5.7 5.7 0 1 0 -11.4 0M1514.85 150.16m-5.7 0a5.7 5.7 0 1 0 11.4 0a5.7 5.7 0 1 0 -11.4 0M1516.63 148.25m-5.7 0a5.7 5.7 0 1 0 11.4 0a5.7 5.7 0 1 0 -11.4 0M1518.41 150.68m-5.7 0a5.7 5.7 0 1 0 11.4 0a5.7 5.7 0 1 0 -11.4 0M1520.19 148.29m-5.7 0a5.7 5.7 0 1 0 11.4 0a5.7 5.7 0 1 0 -11.4 0M1521.97 149.03m-5.7 0a5.7 5.7 0 1 0 11.4 0a5.7 5.7 0 1 0 -11.4 0M1523.75 148.93m-5.7 0a5.7 5.7 0 1 0 11.4 0a5.7 5.7 0 1 0 -11.4 0M1525.53 148.78m-5.7 0a5.7 5.7 0 1 0 11.4 0a5.7 5.7 0 1 0 -11.4 0M1527.31 148.7m-5.7 0a5.7 5.7 0 1 0 11.4 0a5.7 5.7 0 1 0 -11.4 0M1529.09 150.61m-5.7 0a5.7 5.7 0 1 0 11.4 0a5.7 5.7 0 1 0 -11.4 0M1530.87 148.61m-5.7 0a5.7 5.7 0 1 0 11.4 0a5.7 5.7 0 1 0 -11.4 0M1532.65 149.3m-5.7 0a5.7 5.7 0 1 0 11.4 0a5.7 5.7 0 1 0 -11.4 0M1534.42 149.81m-5.7 0a5.7 5.7 0 1 0 11.4 0a5.7 5.7 0 1 0 -11.4 0M1536.2 148.07m-5.7 0a5.7 5.7 0 1 0 11.4 0a5.7 5.7 0 1 0 -11.4 0M1537.98 149.18m-5.7 0a5.7 5.7 0 1 0 11.4 0a5.7 5.7 0 1 0 -11.4 0M1539.76 147.97m-5.7 0a5.7 5.7 0 1 0 11.4 0a5.7 5.7 0 1 0 -11.4 0M1541.54 148.71m-5.7 0a5.7 5.7 0 1 0 11.4 0a5.7 5.7 0 1 0 -11.4 0M1543.32 150.54m-5.7 0a5.7 5.7 0 1 0 11.4 0a5.7 5.7 0 1 0 -11.4 0M1545.1 148.74m-5.7 0a5.7 5.7 0 1 0 11.4 0a5.7 5.7 0 1 0 -11.4 0M1546.88 147.38m-5.7 0a5.7 5.7 0 1 0 11.4 0a5.7 5.7 0 1 0 -11.4 0M1548.66 149.4m-5.7 0a5.7 5.7 0 1 0 11.4 0a5.7 5.7 0 1 0 -11.4 0M1550.44 149.46m-5.7 0a5.7 5.7 0 1 0 11.4 0a5.7 5.7 0 1 0 -11.4 0M1552.22 150.73m-5.7 0a5.7 5.7 0 1 0 11.4 0a5.7 5.7 0 1 0 -11.4 0M1554 151.82m-5.7 0a5.7 5.7 0 1 0 11.4 0a5.7 5.7 0 1 0 -11.4 0M1555.78 151.47m-5.7 0a5.7 5.7 0 1 0 11.4 0a5.7 5.7 0 1 0 -11.4 0M1557.55 148.95m-5.7 0a5.7 5.7 0 1 0 11.4 0a5.7 5.7 0 1 0 -11.4 0M1559.33 152.61m-5.7 0a5.7 5.7 0 1 0 11.4 0a5.7 5.7 0 1 0 -11.4 0M1561.11 151.87m-5.7 0a5.7 5.7 0 1 0 11.4 0a5.7 5.7 0 1 0 -11.4 0M1562.89 153.19m-5.7 0a5.7 5.7 0 1 0 11.4 0a5.7 5.7 0 1 0 -11.4 0M1564.67 151.29m-5.7 0a5.7 5.7 0 1 0 11.4 0a5.7 5.7 0 1 0 -11.4 0M1566.45 149.8m-5.7 0a5.7 5.7 0 1 0 11.4 0a5.7 5.7 0 1 0 -11.4 0M1568.23 151.64m-5.7 0a5.7 5.7 0 1 0 11.4 0a5.7 5.7 0 1 0 -11.4 0M1570.01 151.35m-5.7 0a5.7 5.7 0 1 0 11.4 0a5.7 5.7 0 1 0 -11.4 0M1571.79 149.28m-5.7 0a5.7 5.7 0 1 0 11.4 0a5.7 5.7 0 1 0 -11.4 0M1573.57 150.98m-5.7 0a5.7 5.7 0 1 0 11.4 0a5.7 5.7 0 1 0 -11.4 0M1575.35 152.14m-5.7 0a5.7 5.7 0 1 0 11.4 0a5.7 5.7 0 1 0 -11.4 0M1577.12 151.75m-5.7 0a5.7 5.7 0 1 0 11.4 0a5.7 5.7 0 1 0 -11.4 0M1578.9 151.55m-5.7 0a5.7 5.7 0 1 0 11.4 0a5.7 5.7 0 1 0 -11.4 0M1580.68 148.86m-5.7 0a5.7 5.7 0 1 0 11.4 0a5.7 5.7 0 1 0 -11.4 0M1582.46 149.5m-5.7 0a5.7 5.7 0 1 0 11.4 0a5.7 5.7 0 1 0 -11.4 0M1584.24 147.32m-5.7 0a5.7 5.7 0 1 0 11.4 0a5.7 5.7 0 1 0 -11.4 0M1586.02 147.41m-5.7 0a5.7 5.7 0 1 0 11.4 0a5.7 5.7 0 1 0 -11.4 0M1587.8 148.73m-5.7 0a5.7 5.7 0 1 0 11.4 0a5.7 5.7 0 1 0 -11.4 0M1589.58 149.12m-5.7 0a5.7 5.7 0 1 0 11.4 0a5.7 5.7 0 1 0 -11.4 0M1591.36 147.69m-5.7 0a5.7 5.7 0 1 0 11.4 0a5.7 5.7 0 1 0 -11.4 0M1593.14 147.55m-5.7 0a5.7 5.7 0 1 0 11.4 0a5.7 5.7 0 1 0 -11.4 0M1594.92 147.14m-5.7 0a5.7 5.7 0 1 0 11.4 0a5.7 5.7 0 1 0 -11.4 0M1596.7 150.86m-5.7 0a5.7 5.7 0 1 0 11.4 0a5.7 5.7 0 1 0 -11.4 0M1598.47 148.41m-5.7 0a5.7 5.7 0 1 0 11.4 0a5.7 5.7 0 1 0 -11.4 0M1600.25 149.88m-5.7 0a5.7 5.7 0 1 0 11.4 0a5.7 5.7 0 1 0 -11.4 0M1602.03 150.88m-5.7 0a5.7 5.7 0 1 0 11.4 0a5.7 5.7 0 1 0 -11.4 0M1603.81 150.96m-5.7 0a5.7 5.7 0 1 0 11.4 0a5.7 5.7 0 1 0 -11.4 0M1605.59 150.09m-5.7 0a5.7 5.7 0 1 0 11.4 0a5.7 5.7 0 1 0 -11.4 0M1607.37 149.03m-5.7 0a5.7 5.7 0 1 0 11.4 0a5.7 5.7 0 1 0 -11.4 0M1609.15 150.93m-5.7 0a5.7 5.7 0 1 0 11.4 0a5.7 5.7 0 1 0 -11.4 0M1610.93 151.67m-5.7 0a5.7 5.7 0 1 0 11.4 0a5.7 5.7 0 1 0 -11.4 0M1612.71 148.37m-5.7 0a5.7 5.7 0 1 0 11.4 0a5.7 5.7 0 1 0 -11.4 0M1614.49 149.56m-5.7 0a5.7 5.7 0 1 0 11.4 0a5.7 5.7 0 1 0 -11.4 0M1616.27 149.63m-5.7 0a5.7 5.7 0 1 0 11.4 0a5.7 5.7 0 1 0 -11.4 0M1618.05 150.07m-5.7 0a5.7 5.7 0 1 0 11.4 0a5.7 5.7 0 1 0 -11.4 0M1619.83 150.37m-5.7 0a5.7 5.7 0 1 0 11.4 0a5.7 5.7 0 1 0 -11.4 0M1621.6 148.21m-5.7 0a5.7 5.7 0 1 0 11.4 0a5.7 5.7 0 1 0 -11.4 0M1623.38 150.1m-5.7 0a5.7 5.7 0 1 0 11.4 0a5.7 5.7 0 1 0 -11.4 0M1625.16 149.33m-5.7 0a5.7 5.7 0 1 0 11.4 0a5.7 5.7 0 1 0 -11.4 0M1626.94 148.45m-5.7 0a5.7 5.7 0 1 0 11.4 0a5.7 5.7 0 1 0 -11.4 0M1628.72 147.55m-5.7 0a5.7 5.7 0 1 0 11.4 0a5.7 5.7 0 1 0 -11.4 0" fill="none" stroke="#1746a2" stroke-width="1.9"/>
<path d="M1198.95 405.51h9.1v9.1h-9.1zM1200.73 369.59h9.1v9.1h-9.1zM1202.51 349.97h9.1v9.1h-9.1zM1204.29 337.63h9.1v9.1h-9.1zM1206.07 322.65h9.1v9.1h-9.1zM1207.85 309.77h9.1v9.1h-9.1zM1209.62 299.73h9.1v9.1h-9.1zM1211.4 288.19h9.1v9.1h-9.1zM1213.18 280.59h9.1v9.1h-9.1zM1214.96 274.87h9.1v9.1h-9.1zM1216.74 268.78h9.1v9.1h-9.1zM1218.52 262.91h9.1v9.1h-9.1zM1220.3 256.59h9.1v9.1h-9.1zM1222.08 250.82h9.1v9.1h-9.1zM1223.86 245h9.1v9.1h-9.1zM1225.64 240.57h9.1v9.1h-9.1zM1227.42 234.14h9.1v9.1h-9.1zM1229.2 230.11h9.1v9.1h-9.1zM1230.98 224.75h9.1v9.1h-9.1zM1232.75 220.56h9.1v9.1h-9.1zM1234.53 216.16h9.1v9.1h-9.1zM1236.31 213.02h9.1v9.1h-9.1zM1238.09 208.84h9.1v9.1h-9.1zM1239.87 206.32h9.1v9.1h-9.1zM1241.65 203.56h9.1v9.1h-9.1zM1243.43 199.7h9.1v9.1h-9.1zM1245.21 197.85h9.1v9.1h-9.1zM1246.99 193.65h9.1v9.1h-9.1zM1248.77 191.02h9.1v9.1h-9.1zM1250.55 188.9h9.1v9.1h-9.1zM1252.33 186.22h9.1v9.1h-9.1zM1254.1 185.24h9.1v9.1h-9.1zM1255.88 183.74h9.1v9.1h-9.1zM1257.66 182.34h9.1v9.1h-9.1zM1259.44 180.14h9.1v9.1h-9.1zM1261.22 177.33h9.1v9.1h-9.1zM1263 174.36h9.1v9.1h-9.1zM1264.78 174.56h9.1v9.1h-9.1zM1266.56 172.44h9.1v9.1h-9.1zM1268.34 170.75h9.1v9.1h-9.1zM1270.12 167.23h9.1v9.1h-9.1zM1271.9 168.33h9.1v9.1h-9.1zM1273.67 167.29h9.1v9.1h-9.1zM1275.45 166.63h9.1v9.1h-9.1zM1277.23 162.04h9.1v9.1h-9.1zM1279.01 163.02h9.1v9.1h-9.1zM1280.79 162h9.1v9.1h-9.1zM1282.57 161.08h9.1v9.1h-9.1zM1284.35 157.83h9.1v9.1h-9.1zM1286.13 158.44h9.1v9.1h-9.1zM1287.91 156.89h9.1v9.1h-9.1zM1289.69 154.12h9.1v9.1h-9.1zM1291.47 154.82h9.1v9.1h-9.1zM1293.25 152.47h9.1v9.1h-9.1zM1295.03 153.54h9.1v9.1h-9.1zM1296.8 153.11h9.1v9.1h-9.1zM1298.58 151.88h9.1v9.1h-9.1zM1300.36 152.28h9.1v9.1h-9.1zM1302.14 152.86h9.1v9.1h-9.1zM1303.92 153.64h9.1v9.1h-9.1zM1305.7 152.27h9.1v9.1h-9.1zM1307.48 151.5h9.1v9.1h-9.1zM1309.26 149.11h9.1v9.1h-9.1zM1311.04 148.32h9.1v9.1h-9.1zM1312.82 148.86h9.1v9.1h-9.1zM1314.6 149.21h9.1v9.1h-9.1zM1316.38 150.83h9.1v9.1h-9.1zM1318.15 149.1h9.1v9.1h-9.1zM1319.93 146.57h9.1v9.1h-9.1zM1321.71 148.19h9.1v9.1h-9.1zM1323.49 147.15h9.1v9.1h-9.1zM1325.27 146.01h9.1v9.1h-9.1zM1327.05 145.84h9.1v9.1h-9.1zM1328.83 145.87h9.1v9.1h-9.1zM1330.61 146.62h9.1v9.1h-9.1zM1332.39 144.98h9.1v9.1h-9.1zM1334.17 144.82h9.1v9.1h-9.1zM1335.95 145.03h9.1v9.1h-9.1zM1337.73 144.59h9.1v9.1h-9.1zM1339.5 144.38h9.1v9.1h-9.1zM1341.28 146.3h9.1v9.1h-9.1zM1343.06 144.35h9.1v9.1h-9.1zM1344.84 144.79h9.1v9.1h-9.1zM1346.62 145.04h9.1v9.1h-9.1zM1348.4 143.85h9.1v9.1h-9.1zM1350.18 144.19h9.1v9.1h-9.1zM1351.96 141.19h9.1v9.1h-9.1zM1353.74 141.6h9.1v9.1h-9.1zM1355.52 143.21h9.1v9.1h-9.1zM1357.3 142.89h9.1v9.1h-9.1zM1359.08 143.5h9.1v9.1h-9.1zM1360.85 140.63h9.1v9.1h-9.1zM1362.63 142.71h9.1v9.1h-9.1zM1364.41 141.68h9.1v9.1h-9.1zM1366.19 143.95h9.1v9.1h-9.1zM1367.97 142.18h9.1v9.1h-9.1zM1369.75 141.11h9.1v9.1h-9.1zM1371.53 141.81h9.1v9.1h-9.1zM1373.31 139.9h9.1v9.1h-9.1zM1375.09 143.3h9.1v9.1h-9.1zM1376.87 142.28h9.1v9.1h-9.1zM1378.65 140.63h9.1v9.1h-9.1zM1380.42 140.28h9.1v9.1h-9.1zM1382.2 141.86h9.1v9.1h-9.1zM1383.98 140.05h9.1v9.1h-9.1zM1385.76 139.92h9.1v9.1h-9.1zM1387.54 143.58h9.1v9.1h-9.1zM1389.32 142.9h9.1v9.1h-9.1zM1391.1 144.72h9.1v9.1h-9.1zM1392.88 141.46h9.1v9.1h-9.1zM1394.66 140.73h9.1v9.1h-9.1zM1396.44 140.74h9.1v9.1h-9.1zM1398.22 139.01h9.1v9.1h-9.1zM1400 140.7h9.1v9.1h-9.1zM1401.78 140.21h9.1v9.1h-9.1zM1403.55 143.09h9.1v9.1h-9.1zM1405.33 141.41h9.1v9.1h-9.1zM1407.11 143.06h9.1v9.1h-9.1zM1408.89 142.26h9.1v9.1h-9.1zM1410.67 140.41h9.1v9.1h-9.1zM1412.45 142.68h9.1v9.1h-9.1zM1414.23 141.96h9.1v9.1h-9.1zM1416.01 143.33h9.1v9.1h-9.1zM1417.79 143.75h9.1v9.1h-9.1zM1419.57 143.23h9.1v9.1h-9.1zM1421.35 142.2h9.1v9.1h-9.1zM1423.12 142.8h9.1v9.1h-9.1zM1424.9 144.15h9.1v9.1h-9.1zM1426.68 142.13h9.1v9.1h-9.1zM1428.46 144.92h9.1v9.1h-9.1zM1430.24 144.14h9.1v9.1h-9.1zM1432.02 142.33h9.1v9.1h-9.1zM1433.8 142.8h9.1v9.1h-9.1zM1435.58 143.42h9.1v9.1h-9.1zM1437.36 139.86h9.1v9.1h-9.1zM1439.14 141.66h9.1v9.1h-9.1zM1440.92 141.17h9.1v9.1h-9.1zM1442.7 143.52h9.1v9.1h-9.1zM1444.48 138.41h9.1v9.1h-9.1zM1446.25 142.6h9.1v9.1h-9.1zM1448.03 143.27h9.1v9.1h-9.1zM1449.81 141.13h9.1v9.1h-9.1zM1451.59 139.83h9.1v9.1h-9.1zM1453.37 140.54h9.1v9.1h-9.1zM1455.15 141.55h9.1v9.1h-9.1zM1456.93 141.45h9.1v9.1h-9.1zM1458.71 139.95h9.1v9.1h-9.1zM1460.49 141.15h9.1v9.1h-9.1zM1462.27 141.98h9.1v9.1h-9.1zM1464.05 144.94h9.1v9.1h-9.1zM1465.83 142.68h9.1v9.1h-9.1zM1467.6 141.6h9.1v9.1h-9.1zM1469.38 140.97h9.1v9.1h-9.1zM1471.16 141.86h9.1v9.1h-9.1zM1472.94 142.24h9.1v9.1h-9.1zM1474.72 142.9h9.1v9.1h-9.1zM1476.5 141.58h9.1v9.1h-9.1zM1478.28 142.76h9.1v9.1h-9.1zM1480.06 140.36h9.1v9.1h-9.1zM1481.84 141.46h9.1v9.1h-9.1zM1483.62 143.36h9.1v9.1h-9.1zM1485.4 143.63h9.1v9.1h-9.1zM1487.17 140.97h9.1v9.1h-9.1zM1488.95 141.56h9.1v9.1h-9.1zM1490.73 142.17h9.1v9.1h-9.1zM1492.51 145.2h9.1v9.1h-9.1zM1494.29 141.05h9.1v9.1h-9.1zM1496.07 139.87h9.1v9.1h-9.1zM1497.85 140.25h9.1v9.1h-9.1zM1499.63 141.96h9.1v9.1h-9.1zM1501.41 142.29h9.1v9.1h-9.1zM1503.19 140.88h9.1v9.1h-9.1zM1504.97 142.42h9.1v9.1h-9.1zM1506.75 143.1h9.1v9.1h-9.1zM1508.53 142.27h9.1v9.1h-9.1zM1510.3 143.6h9.1v9.1h-9.1zM1512.08 142.05h9.1v9.1h-9.1zM1513.86 144.78h9.1v9.1h-9.1zM1515.64 143.33h9.1v9.1h-9.1zM1517.42 142.6h9.1v9.1h-9.1zM1519.2 142.53h9.1v9.1h-9.1zM1520.98 142.3h9.1v9.1h-9.1zM1522.76 142.15h9.1v9.1h-9.1zM1524.54 142.75h9.1v9.1h-9.1zM1526.32 142.5h9.1v9.1h-9.1zM1528.1 141.34h9.1v9.1h-9.1zM1529.88 143.27h9.1v9.1h-9.1zM1531.65 142.38h9.1v9.1h-9.1zM1533.43 140.98h9.1v9.1h-9.1zM1535.21 140.66h9.1v9.1h-9.1zM1536.99 144.13h9.1v9.1h-9.1zM1538.77 142.56h9.1v9.1h-9.1zM1540.55 142.35h9.1v9.1h-9.1zM1542.33 140.66h9.1v9.1h-9.1zM1544.11 141.9h9.1v9.1h-9.1zM1545.89 141.93h9.1v9.1h-9.1zM1547.67 143.77h9.1v9.1h-9.1zM1549.45 144.59h9.1v9.1h-9.1zM1551.23 143.94h9.1v9.1h-9.1zM1553 143.65h9.1v9.1h-9.1zM1554.78 145.72h9.1v9.1h-9.1zM1556.56 145.12h9.1v9.1h-9.1zM1558.34 147.57h9.1v9.1h-9.1zM1560.12 144.68h9.1v9.1h-9.1zM1561.9 142.52h9.1v9.1h-9.1zM1563.68 145.23h9.1v9.1h-9.1zM1565.46 144.68h9.1v9.1h-9.1zM1567.24 142.72h9.1v9.1h-9.1zM1569.02 143.91h9.1v9.1h-9.1zM1570.8 144.5h9.1v9.1h-9.1zM1572.58 144.02h9.1v9.1h-9.1zM1574.35 145.86h9.1v9.1h-9.1zM1576.13 142.94h9.1v9.1h-9.1zM1577.91 143.81h9.1v9.1h-9.1zM1579.69 140.16h9.1v9.1h-9.1zM1581.47 139.54h9.1v9.1h-9.1zM1583.25 142.24h9.1v9.1h-9.1zM1585.03 141.17h9.1v9.1h-9.1zM1586.81 140.96h9.1v9.1h-9.1zM1588.59 139.87h9.1v9.1h-9.1zM1590.37 140.84h9.1v9.1h-9.1zM1592.15 142.53h9.1v9.1h-9.1zM1593.92 141.9h9.1v9.1h-9.1zM1595.7 144.02h9.1v9.1h-9.1zM1597.48 144.14h9.1v9.1h-9.1zM1599.26 144.81h9.1v9.1h-9.1zM1601.04 142.57h9.1v9.1h-9.1zM1602.82 141.66h9.1v9.1h-9.1zM1604.6 144.46h9.1v9.1h-9.1zM1606.38 144.64h9.1v9.1h-9.1zM1608.16 140.13h9.1v9.1h-9.1zM1609.94 143.1h9.1v9.1h-9.1zM1611.72 143.53h9.1v9.1h-9.1zM1613.5 142.2h9.1v9.1h-9.1zM1615.28 144.92h9.1v9.1h-9.1zM1617.05 142.56h9.1v9.1h-9.1zM1618.83 143.43h9.1v9.1h-9.1zM1620.61 142.25h9.1v9.1h-9.1zM1622.39 140.79h9.1v9.1h-9.1zM1624.17 141.16h9.1v9.1h-9.1z" fill="none" stroke="#ed1c24" stroke-width="1.75" stroke-linejoin="miter"/>
<path d="M1203.5 402.56l6.5 11.25h-12.99zM1205.28 402.56l6.5 11.25h-12.99zM1207.06 402.56l6.5 11.25h-12.99zM1208.84 402.56l6.5 11.25h-12.99zM1210.62 402.56l6.5 11.25h-12.99zM1212.4 402.56l6.5 11.25h-12.99zM1214.17 402.56l6.5 11.25h-12.99zM1215.95 402.56l6.5 11.25h-12.99zM1217.73 402.56l6.5 11.25h-12.99zM1219.51 402.56l6.5 11.25h-12.99zM1221.29 402.56l6.5 11.25h-12.99zM1223.07 402.56l6.5 11.25h-12.99zM1224.85 402.56l6.5 11.25h-12.99zM1226.63 402.56l6.5 11.25h-12.99zM1228.41 402.56l6.5 11.25h-12.99zM1230.19 402.56l6.5 11.25h-12.99zM1231.97 402.56l6.5 11.25h-12.99zM1233.75 402.56l6.5 11.25h-12.99zM1235.53 402.56l6.5 11.25h-12.99zM1237.3 402.56l6.5 11.25h-12.99zM1239.08 402.56l6.5 11.25h-12.99zM1240.86 402.56l6.5 11.25h-12.99zM1242.64 402.56l6.5 11.25h-12.99zM1244.42 402.56l6.5 11.25h-12.99zM1246.2 402.56l6.5 11.25h-12.99zM1247.98 402.56l6.5 11.25h-12.99zM1249.76 402.56l6.5 11.25h-12.99zM1251.54 402.56l6.5 11.25h-12.99zM1253.32 402.56l6.5 11.25h-12.99zM1255.1 402.56l6.5 11.25h-12.99zM1256.88 402.56l6.5 11.25h-12.99zM1258.65 402.56l6.5 11.25h-12.99zM1260.43 402.56l6.5 11.25h-12.99zM1262.21 402.56l6.5 11.25h-12.99zM1263.99 402.56l6.5 11.25h-12.99zM1265.77 402.56l6.5 11.25h-12.99zM1267.55 402.56l6.5 11.25h-12.99zM1269.33 402.56l6.5 11.25h-12.99zM1271.11 402.56l6.5 11.25h-12.99zM1272.89 402.56l6.5 11.25h-12.99zM1274.67 402.56l6.5 11.25h-12.99zM1276.45 402.56l6.5 11.25h-12.99zM1278.22 402.56l6.5 11.25h-12.99zM1280 402.56l6.5 11.25h-12.99zM1281.78 402.56l6.5 11.25h-12.99zM1283.56 402.56l6.5 11.25h-12.99zM1285.34 402.56l6.5 11.25h-12.99zM1287.12 402.56l6.5 11.25h-12.99zM1288.9 402.56l6.5 11.25h-12.99zM1290.68 402.56l6.5 11.25h-12.99zM1292.46 402.56l6.5 11.25h-12.99zM1294.24 402.56l6.5 11.25h-12.99zM1296.02 402.56l6.5 11.25h-12.99zM1297.8 402.56l6.5 11.25h-12.99zM1299.58 402.56l6.5 11.25h-12.99zM1301.35 402.56l6.5 11.25h-12.99zM1303.13 402.56l6.5 11.25h-12.99zM1304.91 402.56l6.5 11.25h-12.99zM1306.69 402.56l6.5 11.25h-12.99zM1308.47 402.56l6.5 11.25h-12.99zM1310.25 402.56l6.5 11.25h-12.99zM1312.03 402.56l6.5 11.25h-12.99zM1313.81 402.56l6.5 11.25h-12.99zM1315.59 402.56l6.5 11.25h-12.99zM1317.37 402.56l6.5 11.25h-12.99zM1319.15 402.56l6.5 11.25h-12.99zM1320.92 402.56l6.5 11.25h-12.99zM1322.7 402.56l6.5 11.25h-12.99zM1324.48 402.56l6.5 11.25h-12.99zM1326.26 402.56l6.5 11.25h-12.99zM1328.04 402.56l6.5 11.25h-12.99zM1329.82 402.56l6.5 11.25h-12.99zM1331.6 402.56l6.5 11.25h-12.99zM1333.38 402.56l6.5 11.25h-12.99zM1335.16 402.56l6.5 11.25h-12.99zM1336.94 402.56l6.5 11.25h-12.99zM1338.72 402.56l6.5 11.25h-12.99zM1340.5 402.56l6.5 11.25h-12.99zM1342.28 402.56l6.5 11.25h-12.99zM1344.05 402.56l6.5 11.25h-12.99zM1345.83 402.56l6.5 11.25h-12.99zM1347.61 402.56l6.5 11.25h-12.99zM1349.39 402.56l6.5 11.25h-12.99zM1351.17 402.56l6.5 11.25h-12.99zM1352.95 402.56l6.5 11.25h-12.99zM1354.73 402.56l6.5 11.25h-12.99zM1356.51 402.56l6.5 11.25h-12.99zM1358.29 402.56l6.5 11.25h-12.99zM1360.07 402.56l6.5 11.25h-12.99zM1361.85 402.56l6.5 11.25h-12.99zM1363.62 402.56l6.5 11.25h-12.99zM1365.4 402.56l6.5 11.25h-12.99zM1367.18 402.56l6.5 11.25h-12.99zM1368.96 402.56l6.5 11.25h-12.99zM1370.74 402.56l6.5 11.25h-12.99zM1372.52 402.56l6.5 11.25h-12.99zM1374.3 402.56l6.5 11.25h-12.99zM1376.08 402.56l6.5 11.25h-12.99zM1377.86 402.56l6.5 11.25h-12.99zM1379.64 402.56l6.5 11.25h-12.99zM1381.42 402.56l6.5 11.25h-12.99zM1383.2 402.56l6.5 11.25h-12.99zM1384.97 402.56l6.5 11.25h-12.99zM1386.75 402.56l6.5 11.25h-12.99zM1388.53 402.56l6.5 11.25h-12.99zM1390.31 402.56l6.5 11.25h-12.99zM1392.09 402.56l6.5 11.25h-12.99zM1393.87 402.56l6.5 11.25h-12.99zM1395.65 402.56l6.5 11.25h-12.99zM1397.43 402.56l6.5 11.25h-12.99zM1399.21 402.56l6.5 11.25h-12.99zM1400.99 402.56l6.5 11.25h-12.99zM1402.77 402.56l6.5 11.25h-12.99zM1404.55 402.56l6.5 11.25h-12.99zM1406.33 402.56l6.5 11.25h-12.99zM1408.1 402.56l6.5 11.25h-12.99zM1409.88 402.56l6.5 11.25h-12.99zM1411.66 402.56l6.5 11.25h-12.99zM1413.44 402.56l6.5 11.25h-12.99zM1415.22 402.56l6.5 11.25h-12.99zM1417 402.56l6.5 11.25h-12.99zM1418.78 402.56l6.5 11.25h-12.99zM1420.56 402.56l6.5 11.25h-12.99zM1422.34 402.56l6.5 11.25h-12.99zM1424.12 402.56l6.5 11.25h-12.99zM1425.9 402.56l6.5 11.25h-12.99zM1427.67 402.56l6.5 11.25h-12.99zM1429.45 402.56l6.5 11.25h-12.99zM1431.23 402.56l6.5 11.25h-12.99zM1433.01 402.56l6.5 11.25h-12.99zM1434.79 402.56l6.5 11.25h-12.99zM1436.57 402.56l6.5 11.25h-12.99zM1438.35 402.56l6.5 11.25h-12.99zM1440.13 402.56l6.5 11.25h-12.99zM1441.91 402.56l6.5 11.25h-12.99zM1443.69 402.56l6.5 11.25h-12.99zM1445.47 402.56l6.5 11.25h-12.99zM1447.25 402.56l6.5 11.25h-12.99zM1449.03 402.56l6.5 11.25h-12.99zM1450.8 402.56l6.5 11.25h-12.99zM1452.58 402.56l6.5 11.25h-12.99zM1454.36 402.56l6.5 11.25h-12.99zM1456.14 402.56l6.5 11.25h-12.99zM1457.92 402.56l6.5 11.25h-12.99zM1459.7 402.56l6.5 11.25h-12.99zM1461.48 402.56l6.5 11.25h-12.99zM1463.26 402.56l6.5 11.25h-12.99zM1465.04 402.56l6.5 11.25h-12.99zM1466.82 402.56l6.5 11.25h-12.99zM1468.6 402.56l6.5 11.25h-12.99zM1470.38 402.56l6.5 11.25h-12.99zM1472.15 402.56l6.5 11.25h-12.99zM1473.93 402.56l6.5 11.25h-12.99zM1475.71 402.56l6.5 11.25h-12.99zM1477.49 402.56l6.5 11.25h-12.99zM1479.27 402.56l6.5 11.25h-12.99zM1481.05 402.56l6.5 11.25h-12.99zM1482.83 402.56l6.5 11.25h-12.99zM1484.61 402.56l6.5 11.25h-12.99zM1486.39 402.56l6.5 11.25h-12.99zM1488.17 402.56l6.5 11.25h-12.99zM1489.95 402.56l6.5 11.25h-12.99zM1491.72 402.56l6.5 11.25h-12.99zM1493.5 402.56l6.5 11.25h-12.99zM1495.28 402.56l6.5 11.25h-12.99zM1497.06 402.56l6.5 11.25h-12.99zM1498.84 402.56l6.5 11.25h-12.99zM1500.62 402.56l6.5 11.25h-12.99zM1502.4 402.56l6.5 11.25h-12.99zM1504.18 402.56l6.5 11.25h-12.99zM1505.96 402.56l6.5 11.25h-12.99zM1507.74 402.56l6.5 11.25h-12.99zM1509.52 402.56l6.5 11.25h-12.99zM1511.3 402.56l6.5 11.25h-12.99zM1513.08 402.56l6.5 11.25h-12.99zM1514.85 402.56l6.5 11.25h-12.99zM1516.63 402.56l6.5 11.25h-12.99zM1518.41 402.56l6.5 11.25h-12.99zM1520.19 402.56l6.5 11.25h-12.99zM1521.97 402.56l6.5 11.25h-12.99zM1523.75 402.56l6.5 11.25h-12.99zM1525.53 402.56l6.5 11.25h-12.99zM1527.31 402.56l6.5 11.25h-12.99zM1529.09 402.56l6.5 11.25h-12.99zM1530.87 402.56l6.5 11.25h-12.99zM1532.65 402.56l6.5 11.25h-12.99zM1534.42 402.56l6.5 11.25h-12.99zM1536.2 402.56l6.5 11.25h-12.99zM1537.98 402.56l6.5 11.25h-12.99zM1539.76 402.56l6.5 11.25h-12.99zM1541.54 402.56l6.5 11.25h-12.99zM1543.32 402.56l6.5 11.25h-12.99zM1545.1 402.56l6.5 11.25h-12.99zM1546.88 402.56l6.5 11.25h-12.99zM1548.66 402.56l6.5 11.25h-12.99zM1550.44 402.56l6.5 11.25h-12.99zM1552.22 402.56l6.5 11.25h-12.99zM1554 402.56l6.5 11.25h-12.99zM1555.78 402.56l6.5 11.25h-12.99zM1557.55 402.56l6.5 11.25h-12.99zM1559.33 402.56l6.5 11.25h-12.99zM1561.11 402.56l6.5 11.25h-12.99zM1562.89 402.56l6.5 11.25h-12.99zM1564.67 402.56l6.5 11.25h-12.99zM1566.45 402.56l6.5 11.25h-12.99zM1568.23 402.56l6.5 11.25h-12.99zM1570.01 402.56l6.5 11.25h-12.99zM1571.79 402.56l6.5 11.25h-12.99zM1573.57 402.56l6.5 11.25h-12.99zM1575.35 402.56l6.5 11.25h-12.99zM1577.12 402.56l6.5 11.25h-12.99zM1578.9 402.56l6.5 11.25h-12.99zM1580.68 402.56l6.5 11.25h-12.99zM1582.46 402.56l6.5 11.25h-12.99zM1584.24 402.56l6.5 11.25h-12.99zM1586.02 402.56l6.5 11.25h-12.99zM1587.8 402.56l6.5 11.25h-12.99zM1589.58 402.56l6.5 11.25h-12.99zM1591.36 402.56l6.5 11.25h-12.99zM1593.14 402.56l6.5 11.25h-12.99zM1594.92 402.56l6.5 11.25h-12.99zM1596.7 402.56l6.5 11.25h-12.99zM1598.47 402.56l6.5 11.25h-12.99zM1600.25 402.56l6.5 11.25h-12.99zM1602.03 402.56l6.5 11.25h-12.99zM1603.81 402.56l6.5 11.25h-12.99zM1605.59 402.56l6.5 11.25h-12.99zM1607.37 402.56l6.5 11.25h-12.99zM1609.15 402.56l6.5 11.25h-12.99zM1610.93 402.56l6.5 11.25h-12.99zM1612.71 402.56l6.5 11.25h-12.99zM1614.49 402.56l6.5 11.25h-12.99zM1616.27 402.56l6.5 11.25h-12.99zM1618.05 402.56l6.5 11.25h-12.99zM1619.83 402.56l6.5 11.25h-12.99zM1621.6 402.56l6.5 11.25h-12.99zM1623.38 402.56l6.5 11.25h-12.99zM1625.16 402.56l6.5 11.25h-12.99zM1626.94 402.56l6.5 11.25h-12.99zM1628.72 402.56l6.5 11.25h-12.99z" fill="none" stroke="#0f6b2f" stroke-width="1.75" stroke-linejoin="miter"/>
<text x="1212.6" y="69.4" font-size="41.3" fill="#000" stroke="#000" stroke-width="0" text-anchor="start" letter-spacing=".9">(c)</text>
<rect x="1439.5" y="43.5" width="178" height="91.5" fill="#fff" stroke="#5a5a5a" stroke-width="1"/>
<path d="M1469.7 60.3m-5.7 0a5.7 5.7 0 1 0 11.4 0a5.7 5.7 0 1 0 -11.4 0" fill="none" stroke="#1746a2" stroke-width="1.9"/>
<path d="M1465.15 84.95h9.1v9.1h-9.1z" fill="none" stroke="#ed1c24" stroke-width="1.75" stroke-linejoin="miter"/>
<path d="M1469.7 111.1l6.5 11.25h-12.99z" fill="none" stroke="#0f6b2f" stroke-width="1.75" stroke-linejoin="miter"/>
<text font-size="16.8" fill="#111" stroke="#111" stroke-width="0.12"><tspan x="1498.7" y="63.5">Mean strain</tspan><tspan x="1591.0" y="63.5" font-family='"DejaVu Sans", sans-serif' font-style="oblique" font-size="15" stroke="none">ϵ</tspan><tspan x="1598.2" y="71.9" font-size="13">x</tspan></text>
<text font-size="16.8" fill="#111" stroke="#111" stroke-width="0.12"><tspan x="1498.7" y="92.5">Mean strain</tspan><tspan x="1591.0" y="92.5" font-family='"DejaVu Sans", sans-serif' font-style="oblique" font-size="15" stroke="none">ϵ</tspan><tspan x="1598.2" y="100.9" font-size="13">y</tspan></text>
<text font-size="16.8" fill="#111" stroke="#111" stroke-width="0.12"><tspan x="1498.7" y="121.5">Mean strain</tspan><tspan x="1591.0" y="121.5" font-family='"DejaVu Sans", sans-serif' font-style="oblique" font-size="15" stroke="none">ϵ</tspan><tspan x="1598.2" y="129.9" font-size="13">xy</tspan></text>
</svg>
</body></html>
